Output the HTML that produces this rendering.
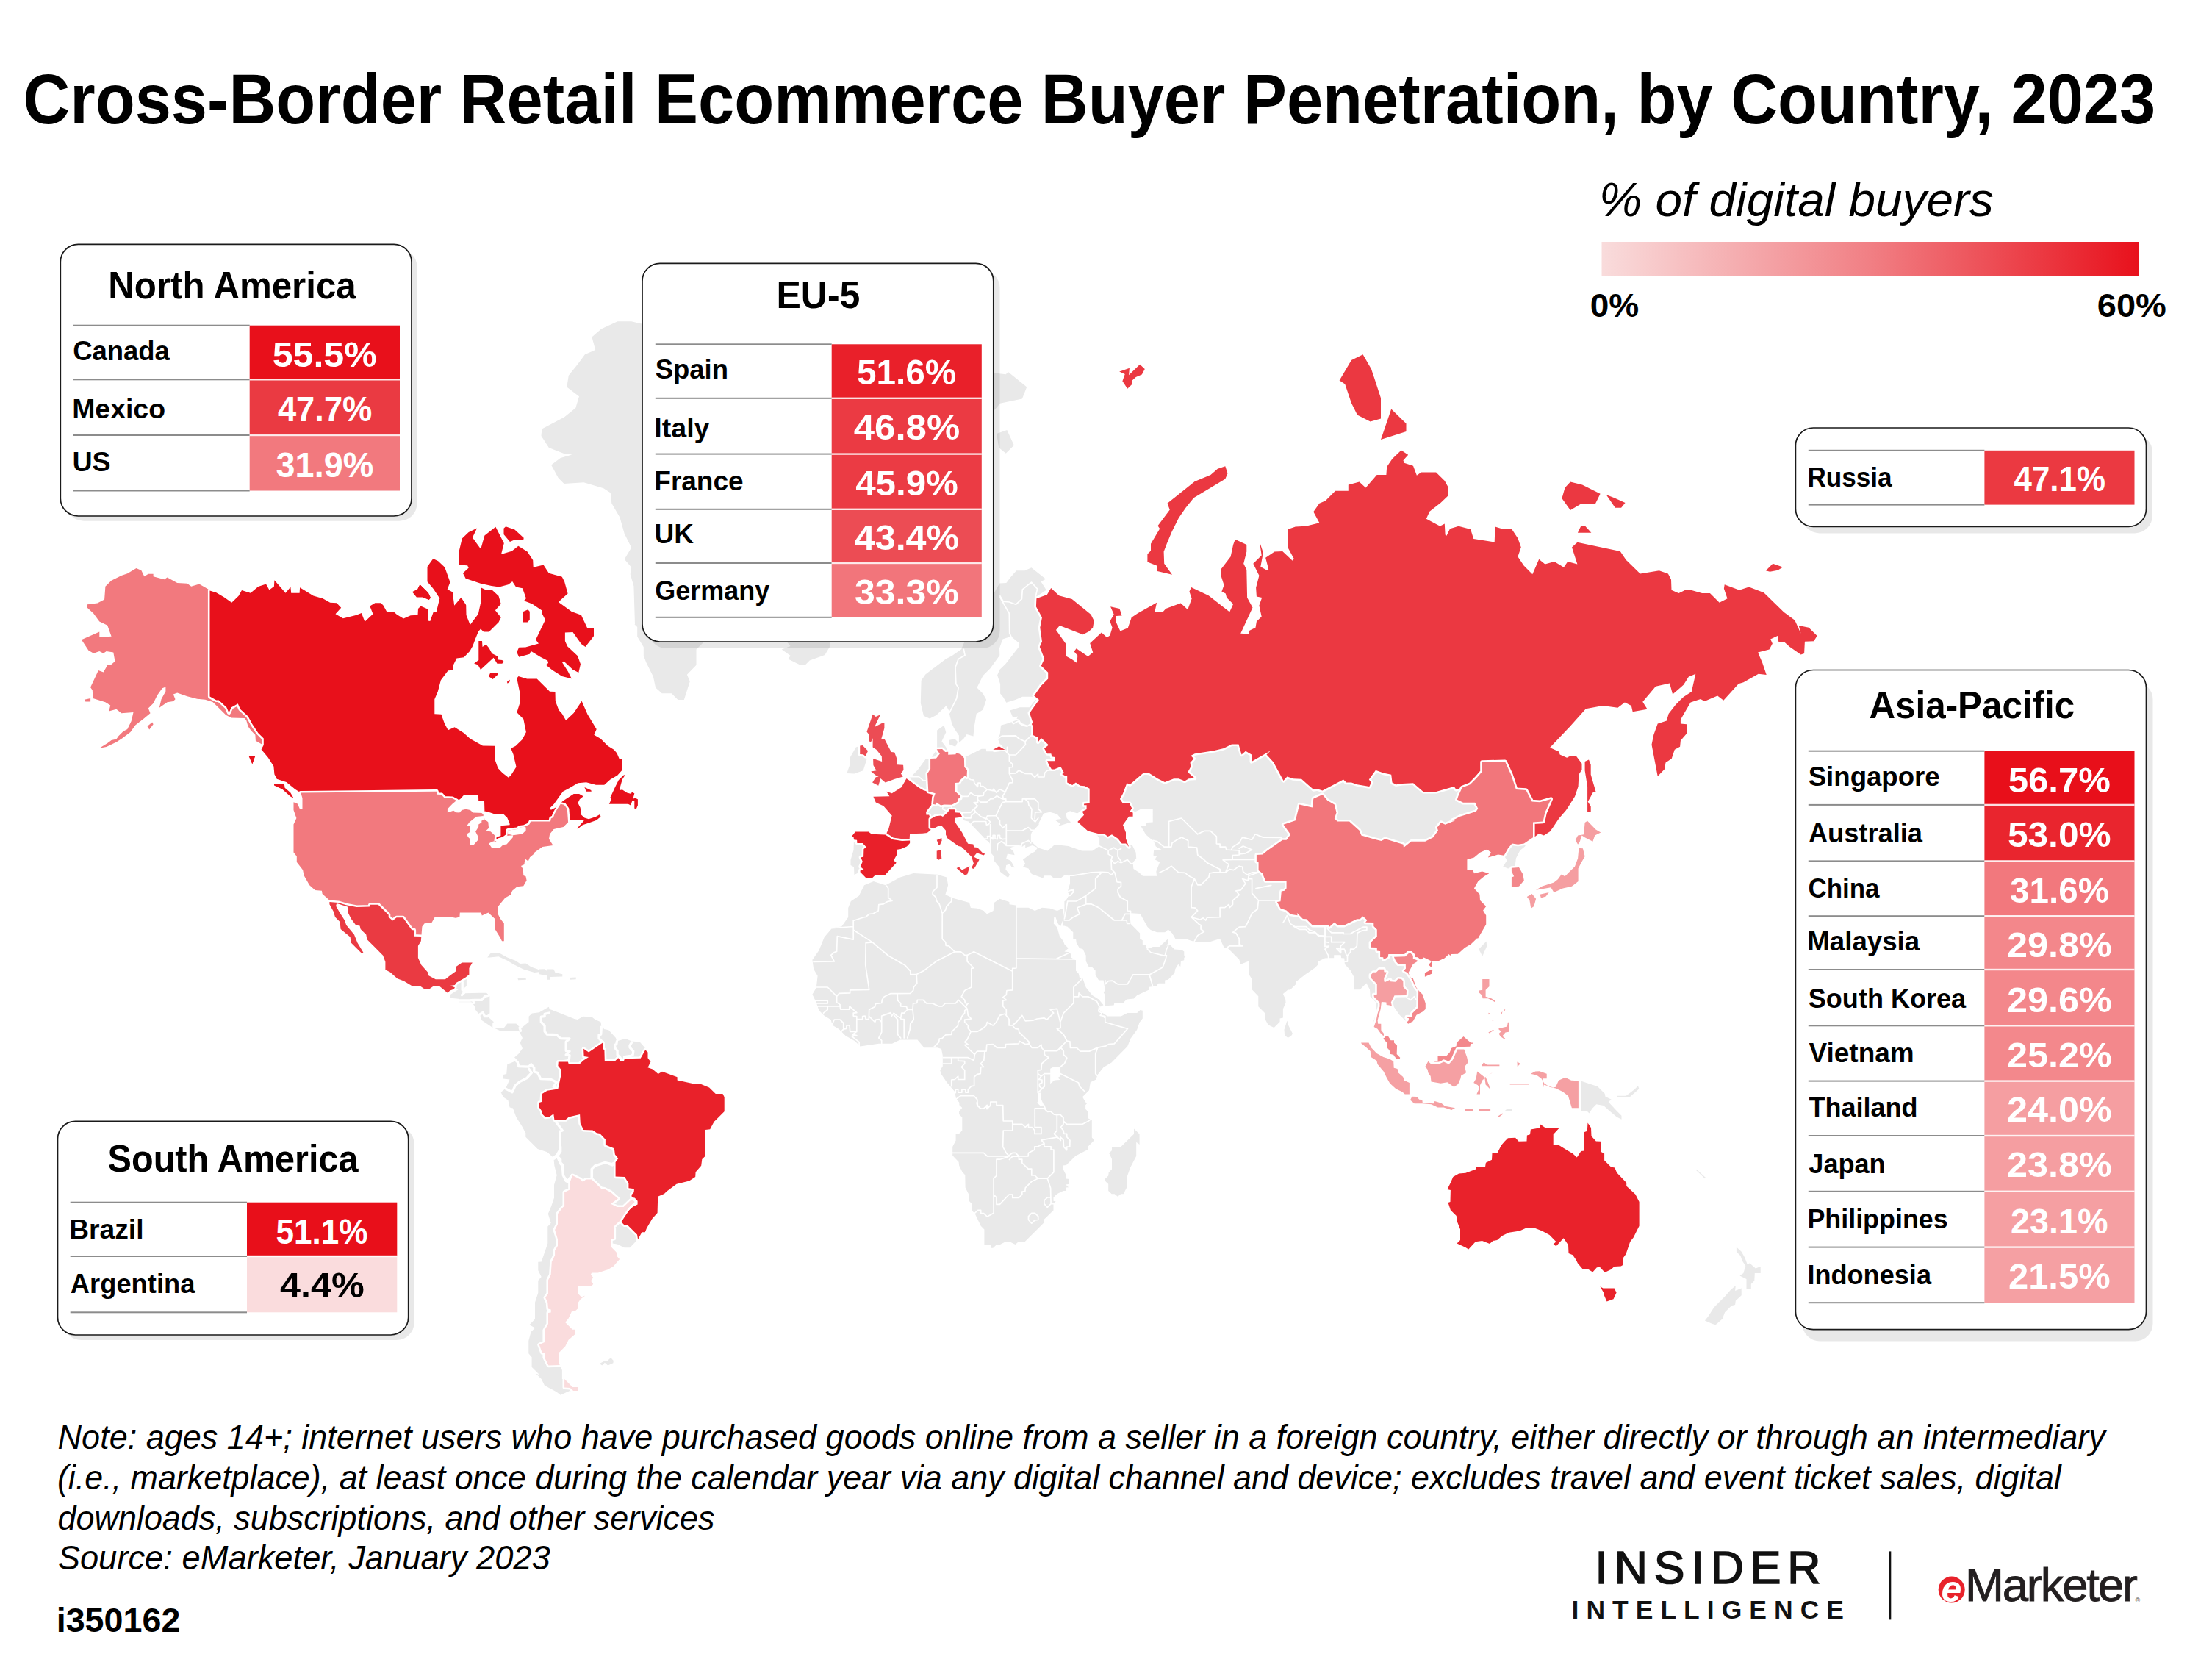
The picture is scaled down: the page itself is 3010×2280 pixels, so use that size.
<!DOCTYPE html>
<html lang="en"><head><meta charset="utf-8"><title>Cross-Border Retail Ecommerce Buyer Penetration, by Country, 2023</title>
<style>html,body{margin:0;padding:0;background:#fff}body{width:3010px;height:2280px;overflow:hidden}svg{display:block}text{font-family:"Liberation Sans", sans-serif}.b{font-weight:700}.i{font-style:italic}.w{fill:#fff}</style></head><body>
<svg xmlns="http://www.w3.org/2000/svg" width="3010" height="2280" viewBox="0 0 3010 2280">
<defs><linearGradient id="lg" x1="0" x2="1" y1="0" y2="0"><stop offset="0" stop-color="#f9dcdc"/><stop offset="0.5" stop-color="#f17f84"/><stop offset="1" stop-color="#e8111c"/></linearGradient></defs>
<rect width="3010" height="2280" fill="#fff"/>
<g id="map" stroke-linejoin="round">
<path d="M618.6,1333.8L634.9,1331.7L634.9,1341.5L629.5,1345.8L629.5,1351.2L633.8,1348.0L662.1,1348.0L666.4,1352.3L666.4,1378.4L662.1,1381.6L671.9,1390.3L672.9,1397.9L686.0,1397.9L690.3,1392.5L702.3,1392.5L708.8,1399.0L707.7,1402.3L686.0,1402.3L680.5,1402.3L668.6,1396.8L655.6,1388.1L653.4,1381.6L646.4,1372.9L645.8,1368.6L641.5,1363.2L624.7,1363.2L624.1,1358.8L613.2,1357.7L612.1,1353.4L624.1,1345.8L617.6,1344.7Z" fill="#e9e9e9"/>
<path d="M663.2,1302.4L667.5,1296.9L679.5,1296.5L690.3,1302.4L701.2,1306.7L707.7,1311.0L715.3,1310.4L722.9,1315.4L731.6,1318.6L735.9,1321.9L727.2,1323.0L712.0,1318.6L699.0,1312.1L690.3,1306.7L678.4,1301.3L666.4,1302.4Z" fill="#e9e9e9"/>
<path d="M733.8,1318.6L741.4,1318.2L743.5,1320.8L744.6,1318.6L753.3,1318.6L755.5,1323.0L765.3,1325.2L765.3,1328.4L749.0,1329.1L747.9,1332.8L744.6,1332.8L744.6,1327.3L733.8,1325.2Z" fill="#e9e9e9"/>
<path d="M704.4,1330.6L715.3,1329.9L716.0,1332.8L705.1,1333.2Z" fill="#e9e9e9"/>
<path d="M775.0,1329.9L783.7,1329.5L783.7,1332.3L775.0,1332.8Z" fill="#e9e9e9"/>
<path d="M708.8,1399.0L719.6,1390.3L719.6,1382.7L724.0,1378.4L733.8,1377.3L746.8,1369.7L747.9,1372.9L751.1,1374.0L781.5,1386.0L785.9,1387.1L793.5,1382.7L805.4,1383.4L809.8,1387.1L817.4,1390.3L818.5,1395.8L821.7,1396.8L821.7,1400.1L828.2,1401.2L838.0,1412.0L839.1,1416.4L851.1,1413.1L859.7,1416.4L870.6,1417.5L879.3,1427.2L881.5,1431.6L881.5,1439.2L885.4,1444.6L881.5,1452.2L888.0,1454.4L895.6,1460.9L901.0,1457.7L921.6,1465.3L921.6,1469.6L942.3,1473.9L954.2,1475.0L965.1,1479.4L973.8,1488.1L983.5,1488.1L985.7,1492.4L985.7,1512.0L971.6,1526.1L966.2,1536.3L959.7,1536.9L959.7,1572.8L955.3,1577.1L954.2,1585.8L946.6,1594.5L946.2,1601.0L937.9,1606.4L920.6,1610.8L907.5,1620.6L903.9,1624.1L895.2,1627.8L894.6,1650.1L887.6,1657.7L880.0,1670.8L877.8,1676.2L873.5,1676.2L868.1,1686.0L864.8,1689.2L857.2,1697.3L849.6,1697.3L839.8,1692.5L833.3,1691.4L831.1,1695.8L838.7,1703.4L839.4,1708.8L843.1,1713.1L834.4,1722.9L826.8,1727.2L813.8,1731.6L805.1,1731.6L804.0,1733.8L807.2,1738.1L804.0,1742.5L807.2,1746.8L805.1,1749.4L786.6,1749.4L786.6,1759.8L791.0,1764.6L796.4,1762.4L789.9,1767.4L786.0,1772.9L786.0,1780.5L782.3,1783.7L777.9,1784.2L773.6,1793.5L769.2,1798.9L779.0,1808.7L782.3,1808.7L782.3,1815.2L773.6,1822.8L769.2,1831.5L760.5,1840.2L760.5,1853.2L761.6,1857.1L764.9,1864.1L764.9,1876.0L768.1,1876.0L779.0,1886.9L786.0,1886.9L786.0,1891.9L774.7,1892.3L762.7,1897.7L757.3,1893.4L741.0,1884.7L736.7,1876.0L729.1,1868.4L734.5,1870.6L723.6,1859.7L723.6,1846.3L719.3,1841.3L719.3,1823.9L722.5,1812.0L728.0,1806.5L720.4,1802.2L728.0,1794.6L728.0,1771.8L732.3,1758.7L732.3,1742.0L736.7,1737.0L732.3,1728.3L732.3,1716.8L736.7,1716.4L745.3,1691.4L745.3,1668.6L749.7,1663.8L745.8,1651.2L750.3,1640.4L754.0,1629.5L754.0,1612.1L757.7,1598.8L754.4,1585.8L753.3,1574.9L744.6,1567.3L731.6,1563.0L715.3,1546.7L715.3,1541.3L709.9,1531.5L702.3,1519.6L697.9,1507.6L693.6,1506.5L691.4,1496.8L684.9,1492.4L681.6,1485.9L688.1,1480.5L693.6,1468.5L684.9,1467.4L684.9,1462.0L689.2,1460.9L690.3,1447.9L701.2,1443.5L699.0,1439.2L705.5,1433.8L711.0,1426.2L707.7,1418.6L711.0,1412.0L706.6,1403.4Z" fill="#e9e9e9"/>
<path d="M815.9,1855.0L822.5,1851.5L826.8,1851.1L831.1,1847.1L834.8,1851.1L834.4,1854.3L827.2,1857.6L822.9,1853.7L819.2,1857.6Z" fill="#e9e9e9"/>
<path d="M875.1,441.1L859.2,437.3L840.3,437.3L818.1,447.5L805.4,458.5L810.2,475.9L795.9,482.3L786.5,494.9L773.8,510.8L771.3,526.6L788.0,539.2L783.3,555.1L767.5,567.7L737.4,583.5L736.5,593.0L746.9,608.9L766.8,616.8L778.5,618.4L762.7,623.1L750.1,632.6L759.6,650.0L767.5,657.9L794.4,656.3L821.3,664.2L830.8,670.6L832.3,684.8L843.4,703.8L849.7,725.9L859.2,744.9L849.7,760.8L859.2,771.8L857.7,781.3L862.4,797.2L864.0,849.4L862.8,848.7L867.2,853.0L867.2,866.1L875.8,880.2L875.8,892.1L879.1,900.8L888.9,920.4L892.1,935.6L900.8,943.2L913.8,943.2L922.5,951.9L930.8,951.9L938.8,926.9L934.9,917.8L947.5,904.7L947.5,883.4L957.3,873.7L992.0,840.0L1004.8,684.8L973.2,494.9Z" fill="#e9e9e9"/>
<path d="M1063.7,883.4L1075.7,879.1L1070.2,872.6L1128.9,872.6L1128.9,880.2L1122.4,891.0L1101.7,898.6L1096.3,904.1L1087.6,904.1L1072.4,896.5L1075.7,892.1Z" fill="#e9e9e9"/>
<path d="M1352.9,507.6L1368.7,509.2L1371.9,506.0L1397.2,526.6L1390.9,542.4L1360.8,548.7L1352.9,558.2L1337.1,532.9Z" fill="#e9e9e9"/>
<path d="M1356.1,589.9L1370.3,585.1L1379.8,605.7L1368.7,616.8L1359.2,608.9Z" fill="#e9e9e9"/>
<path d="M1410.0,811.7L1423.8,802.7L1416.5,791.3L1423.0,787.7L1403.5,772.3L1394.5,776.2L1383.1,776.2L1375.0,785.6L1369.3,792.9L1360.3,793.4L1344.0,821.4L1311.4,875.2L1308.2,883.3L1295.2,892.3L1287.0,896.4L1276.4,904.5L1259.3,917.6L1253.6,925.7L1252.8,956.6L1256.9,973.8L1265.0,977.5L1274.0,972.9L1287.0,960.7L1291.1,968.1L1295.2,984.3L1298.4,990.9L1304.9,1000.6L1304.9,1010.4L1311.4,1004.7L1315.5,999.0L1324.5,1001.4L1325.3,990.9L1328.6,971.3L1337.5,965.6L1342.1,951.8L1337.5,943.6L1329.4,935.5L1337.5,919.2L1347.3,909.4L1360.3,891.5L1360.0,881.7L1364.4,869.5L1375.8,865.8L1387.2,875.2L1386.4,880.1L1368.5,902.9L1360.3,911.0L1357.1,918.4L1361.1,930.6L1361.1,943.6L1365.2,948.5L1369.3,955.8L1382.3,951.8L1391.3,947.7L1402.7,947.7L1406.7,948.5L1417.3,930.6L1426.3,920.8L1426.3,914.3L1417.3,904.5L1421.4,896.4L1413.3,883.3L1417.3,868.7L1414.1,852.4L1417.3,839.4L1409.2,826.3Z" fill="#e9e9e9"/>
<path d="M1291.9,1006.8L1299.2,1005.2L1303.3,1009.2L1300.0,1015.7L1291.9,1012.5Z" fill="#e9e9e9"/>
<path d="M1170.2,1014.6L1164.8,1016.6L1156.7,1030.4L1156.2,1041.0L1152.3,1052.1L1162.4,1052.4L1174.6,1048.3L1179.5,1032.8L1177.8,1028.8L1174.6,1026.3L1170.2,1026.0Z" fill="#e9e9e9"/>
<path d="M1400.8,962.3L1387.8,962.3L1374.2,966.4L1378.3,975.9L1385.1,974.5L1382.4,979.9L1371.5,984.0L1362.0,986.7L1360.7,998.9L1357.9,1004.4L1359.9,1011.1L1364.0,1015.2L1367.6,1019.4L1352.3,1022.3L1342.3,1022.3L1341.7,1018.8L1335.8,1018.8L1314.7,1029.3L1299.6,1024.7L1290.1,1026.1L1287.3,1016.6L1281.4,1008.4L1287.3,996.2L1284.6,986.7L1275.1,993.5L1275.1,1019.3L1266.1,1032.0L1260.1,1032.0L1248.7,1047.5L1242.2,1054.0L1240.5,1056.5L1233.5,1058.9L1226.7,1071.1L1213.7,1079.3L1206.3,1076.8L1210.4,1083.3L1188.4,1083.7L1191.7,1091.5L1202.3,1096.4L1213.7,1109.4L1209.3,1127.3L1205.8,1134.7L1204.7,1135.5L1186.0,1134.7L1181.9,1131.4L1164.0,1131.4L1158.8,1137.9L1161.5,1138.4L1162.0,1142.8L1161.5,1156.6L1157.5,1169.7L1157.5,1177.0L1162.0,1179.5L1162.4,1190.0L1170.5,1186.3L1178.6,1194.4L1186.8,1194.4L1190.9,1190.5L1204.7,1190.0L1219.7,1173.8L1216.1,1170.5L1221.0,1161.5L1221.0,1155.8L1225.9,1155.0L1234.0,1151.4L1238.1,1146.9L1238.1,1143.6L1238.1,1134.2L1255.2,1133.8L1261.7,1133.0L1268.6,1127.3L1269.9,1127.3L1276.4,1124.1L1281.3,1123.3L1287.0,1129.8L1287.0,1135.5L1289.4,1140.4L1295.1,1144.4L1304.1,1150.9L1308.1,1151.8L1322.0,1165.6L1324.9,1174.6L1322.0,1181.1L1325.2,1181.9L1326.9,1179.5L1332.6,1169.4L1324.9,1165.6L1329.3,1160.2L1338.3,1163.5L1340.7,1161.5L1337.5,1160.7L1330.1,1153.1L1325.2,1152.6L1324.4,1148.5L1317.1,1147.7L1309.0,1132.2L1298.9,1117.6L1299.2,1112.7L1309.3,1111.4L1311.4,1115.9L1317.9,1117.6L1322.8,1124.1L1329.3,1131.4L1336.6,1137.9L1340.7,1142.0L1345.6,1145.2L1348.1,1150.1L1348.1,1159.9L1352.9,1165.6L1352.9,1171.3L1360.3,1180.3L1361.1,1186.0L1367.6,1190.9L1371.7,1194.1L1374.1,1190.0L1368.4,1182.7L1369.2,1177.0L1374.1,1175.4L1376.6,1179.5L1380.6,1180.3L1375.7,1171.3L1369.2,1168.1L1370.9,1161.5L1380.6,1163.2L1379.0,1158.3L1374.1,1153.4L1383.9,1150.1L1391.2,1151.8L1395.3,1148.5L1395.2,1153.2L1404.9,1150.0L1412.1,1153.2L1408.2,1158.6L1401.7,1161.9L1391.9,1169.5L1395.2,1174.9L1391.9,1179.3L1399.5,1181.5L1403.8,1189.1L1419.1,1194.5L1421.2,1191.2L1429.9,1191.2L1434.3,1195.1L1442.9,1195.1L1448.4,1190.8L1456.0,1191.2L1456.0,1202.1L1452.7,1212.9L1454.9,1217.3L1450.5,1224.9L1448.4,1226.0L1448.4,1249.9L1446.2,1252.0L1446.2,1259.6L1448.4,1259.6L1452.7,1260.7L1460.3,1268.3L1460.3,1277.0L1464.2,1278.1L1464.7,1282.5L1469.0,1290.1L1473.4,1291.1L1477.7,1299.8L1477.7,1307.4L1482.0,1316.1L1486.4,1316.1L1490.7,1320.5L1490.7,1325.9L1495.1,1333.5L1501.6,1333.5L1503.8,1347.6L1501.6,1349.8L1503.8,1354.1L1503.8,1368.2L1515.7,1367.6L1516.4,1363.9L1528.7,1363.9L1533.1,1359.6L1542.9,1358.5L1547.2,1354.1L1563.5,1346.5L1563.5,1342.8L1573.3,1341.5L1576.5,1337.8L1585.2,1337.8L1585.2,1333.5L1589.6,1332.8L1598.2,1323.7L1599.3,1318.3L1603.2,1311.8L1606.3,1315.0L1606.9,1307.4L1611.3,1306.3L1611.3,1303.1L1613.4,1300.9L1611.3,1299.8L1611.3,1294.4L1608.0,1292.2L1598.2,1291.6L1591.7,1285.1L1587.4,1286.8L1589.6,1282.5L1589.6,1277.0L1577.6,1287.9L1568.9,1287.9L1561.3,1291.1L1559.1,1289.0L1559.1,1285.7L1554.8,1285.7L1554.8,1279.2L1551.1,1277.0L1551.1,1269.4L1538.5,1256.8L1537.4,1243.4L1539.6,1242.3L1551.5,1242.9L1561.3,1260.7L1565.7,1265.1L1574.4,1268.3L1585.2,1268.3L1589.6,1264.6L1595.0,1269.4L1599.3,1277.0L1612.4,1277.0L1625.0,1280.9L1647.1,1280.9L1660.1,1277.0L1665.6,1289.0L1669.9,1289.0L1686.2,1305.3L1688.4,1311.8L1699.2,1307.4L1699.7,1325.9L1704.0,1332.4L1704.0,1346.5L1712.3,1355.2L1712.3,1369.3L1721.0,1378.0L1721.4,1386.3L1725.7,1394.3L1733.6,1398.0L1741.6,1390.0L1741.6,1385.6L1745.9,1384.5L1745.9,1372.6L1749.6,1363.9L1749.2,1359.6L1745.9,1352.0L1752.5,1346.5L1755.7,1346.5L1763.3,1338.9L1763.3,1335.7L1777.4,1324.8L1789.4,1316.4L1793.5,1312.2L1793.5,1308.1L1802.9,1303.4L1807.6,1303.2L1815.2,1303.2L1815.2,1299.3L1824.6,1299.3L1825.2,1303.2L1829.3,1303.4L1829.9,1311.7L1837.6,1319.9L1842.9,1329.9L1842.9,1346.3L1850.5,1346.3L1859.3,1337.5L1864.0,1346.3L1864.6,1355.7L1872.8,1364.0L1873.3,1376.8L1869.2,1389.0L1871.1,1397.1L1881.5,1410.7L1886.9,1416.1L1887.4,1425.6L1893.7,1433.8L1900.5,1440.6L1904.5,1440.6L1900.5,1436.5L1901.0,1422.9L1895.6,1416.9L1887.4,1416.1L1886.9,1414.8L1881.5,1406.6L1874.7,1401.2L1870.1,1394.4L1872.0,1382.2L1876.0,1379.5L1878.7,1364.5L1884.2,1363.2L1893.7,1364.5L1895.0,1367.2L1904.5,1380.8L1916.8,1392.5L1924.9,1387.6L1929.0,1379.5L1937.1,1374.0L1939.8,1364.5L1935.8,1352.3L1927.6,1341.5L1920.8,1329.2L1915.4,1321.1L1919.5,1310.2L1927.1,1306.2L1933.4,1305.8L1937.5,1302.8L1946.9,1307.2L1947.8,1308.4L1943.9,1312.2L1946.9,1315.2L1948.6,1314.6L1949.0,1307.2L1958.0,1307.0L1965.7,1303.4L1971.6,1298.1L1983.9,1297.8L1993.3,1289.3L2001.5,1284.6L2009.8,1276.4L2011.3,1276.4L2022.2,1257.4L2022.2,1245.2L2018.1,1238.4L2022.2,1233.0L2014.0,1224.8L2013.5,1216.7L2005.9,1208.5L2011.3,1199.0L2019.5,1192.2L2026.3,1188.2L2016.8,1185.5L2005.9,1188.2L2004.5,1184.1L1996.4,1184.1L1996.4,1169.2L2005.9,1166.5L2014.0,1159.7L2023.5,1155.6L2029.0,1159.7L2024.9,1166.5L2030.3,1165.1L2038.5,1162.4L2046.6,1163.7L2050.7,1170.5L2045.3,1178.7L2052.0,1181.4L2056.9,1180.8L2056.9,1185.5L2060.2,1192.2L2056.9,1193.6L2056.9,1206.4L2067.0,1205.8L2073.8,1197.7L2072.4,1189.5L2067.0,1180.0L2061.6,1178.7L2062.9,1167.8L2068.3,1156.9L2075.1,1151.5L2079.2,1143.4L2086.0,1139.3L2087.3,1139.3L2080.0,1000.0L1450.3,899.8Z" fill="#e9e9e9"/>
<path d="M1751.4,1388.4L1753.5,1395.4L1759.0,1406.3L1756.8,1409.5L1752.5,1411.7L1748.1,1408.4L1747.5,1400.8Z" fill="#e9e9e9"/>
<path d="M2012.3,1291.2L2022.6,1280.4L2023.2,1287.2L2017.2,1300.7Z" fill="#e9e9e9"/>
<path d="M1176.0,1204.3L1188.7,1198.9L1205.0,1204.3L1224.9,1193.5L1243.0,1188.0L1275.6,1189.8L1288.3,1193.5L1290.1,1204.3L1286.4,1217.0L1296.6,1221.7L1319.0,1227.9L1320.9,1235.1L1330.0,1235.8L1338.7,1239.0L1343.0,1243.4L1351.7,1239.0L1352.8,1228.1L1360.4,1222.7L1373.4,1227.1L1373.4,1230.3L1382.1,1231.4L1383.2,1234.7L1399.5,1234.7L1408.2,1239.0L1418.0,1234.7L1428.8,1235.8L1438.6,1239.0L1446.2,1235.8L1448.4,1249.9L1446.2,1252.0L1442.9,1260.7L1439.7,1256.4L1436.4,1247.7L1434.3,1247.7L1433.8,1256.4L1438.6,1261.8L1441.9,1273.8L1446.9,1280.3L1448.4,1284.6L1453.8,1290.1L1448.4,1294.4L1457.1,1295.5L1458.1,1303.1L1464.0,1306.3L1464.0,1320.5L1467.9,1324.8L1469.0,1330.2L1473.4,1331.3L1477.7,1343.3L1486.4,1354.1L1495.1,1359.6L1501.6,1367.2L1495.1,1371.5L1497.2,1375.8L1503.8,1380.2L1507.0,1382.4L1525.5,1382.4L1534.2,1378.0L1547.2,1378.0L1551.5,1374.1L1554.8,1374.8L1554.8,1385.6L1550.5,1391.1L1547.2,1400.8L1538.5,1412.8L1534.2,1423.6L1512.5,1445.4L1501.6,1451.9L1494.0,1461.6L1491.1,1468.7L1483.8,1472.3L1482.0,1483.2L1473.0,1492.3L1478.4,1501.3L1480.2,1500.0L1477.1,1503.2L1477.1,1508.7L1481.0,1512.7L1481.0,1521.4L1485.8,1523.7L1485.8,1547.5L1489.2,1550.9L1481.0,1559.3L1481.0,1563.6L1463.6,1572.5L1450.9,1585.1L1446.5,1585.4L1446.5,1590.2L1450.9,1598.9L1450.9,1603.6L1454.9,1604.1L1454.9,1610.8L1450.2,1611.6L1454.1,1615.2L1450.9,1615.5L1450.9,1619.9L1447.0,1619.9L1438.3,1624.2L1433.5,1629.0L1433.5,1633.7L1436.7,1634.5L1433.5,1637.7L1433.5,1646.4L1420.6,1659.0L1420.6,1663.3L1394.8,1689.1L1386.1,1689.1L1381.6,1693.0L1373.4,1689.1L1368.7,1689.1L1360.0,1693.4L1355.7,1693.4L1351.3,1697.8L1348.1,1697.8L1348.1,1693.4L1339.4,1693.0L1339.4,1672.5L1334.7,1667.7L1326.3,1650.3L1322.0,1646.4L1322.0,1637.3L1318.0,1632.9L1318.0,1624.2L1313.6,1615.5L1313.3,1598.4L1309.3,1594.1L1305.1,1585.4L1304.6,1580.7L1296.2,1572.0L1296.2,1560.1L1300.6,1551.4L1300.6,1543.0L1304.6,1542.7L1309.3,1538.0L1309.3,1520.3L1305.1,1515.8L1305.1,1511.9L1309.3,1507.1L1305.4,1503.2L1305.4,1500.0L1300.9,1494.1L1299.1,1485.0L1288.3,1472.3L1281.0,1461.5L1279.2,1456.0L1282.8,1450.6L1282.8,1436.1L1281.0,1427.1L1275.6,1425.3L1257.5,1425.3L1248.4,1414.4L1224.9,1414.4L1214.0,1419.8L1195.9,1419.8L1170.5,1423.5L1163.3,1416.2L1150.6,1409.0L1141.6,1399.9L1132.5,1394.5L1130.7,1387.2L1121.7,1381.8L1114.4,1374.6L1110.8,1363.7L1105.4,1352.8L1110.8,1343.8L1112.6,1327.5L1107.2,1318.4L1105.4,1305.7L1114.4,1293.1L1121.7,1275.0L1132.5,1262.3L1145.2,1260.5L1154.2,1247.8L1154.2,1235.1L1157.9,1226.1L1168.7,1218.8Z" fill="#e9e9e9"/>
<path d="M1543.0,1535.6L1550.6,1542.7L1550.6,1557.0L1546.2,1553.8L1546.2,1572.8L1538.0,1588.6L1533.2,1602.1L1533.2,1615.5L1528.8,1624.2L1525.3,1624.2L1520.9,1627.8L1516.6,1624.2L1512.7,1624.2L1508.2,1619.9L1508.2,1610.8L1504.0,1606.8L1504.0,1603.6L1508.2,1599.4L1508.7,1594.9L1513.0,1590.5L1513.0,1576.7L1509.2,1568.8L1513.0,1564.9L1513.0,1560.1L1525.3,1560.1L1543.0,1542.7Z" fill="#e9e9e9"/>
<path d="M2362.9,1696.6L2369.7,1702.7L2374.2,1710.7L2377.6,1719.7L2381.0,1718.6L2388.9,1725.4L2395.7,1723.1L2395.7,1732.1L2387.8,1732.1L2387.3,1742.3L2382.8,1746.8L2382.8,1753.6L2376.5,1753.6L2376.5,1740.1L2367.4,1735.5L2372.4,1732.1L2375.3,1722.0L2370.8,1715.2L2368.5,1708.4L2362.9,1702.7Z" fill="#e9e9e9"/>
<path d="M2361.8,1749.1L2361.1,1755.9L2369.7,1752.5L2369.7,1762.2L2361.8,1769.5L2361.1,1775.1L2356.1,1776.2L2347.1,1785.3L2343.7,1794.3L2334.6,1802.3L2330.1,1801.1L2319.9,1796.6L2324.4,1790.9L2332.4,1778.5L2347.1,1763.8L2355.0,1754.8Z" fill="#e9e9e9"/>
<path d="M2308.6,1590.8L2321.0,1602.1L2319.9,1603.2L2308.2,1591.9Z" fill="#e9e9e9"/>
<path d="M2046.9,1512.1L2050.1,1508.9L2057.5,1508.9L2057.5,1511.3L2050.1,1512.1Z" fill="#e9e9e9"/>
<path d="M2151.1,1470.6L2173.9,1477.9L2183.7,1487.7L2184.5,1491.8L2192.7,1495.8L2188.6,1499.1L2200.0,1511.3L2206.5,1517.8L2206.5,1522.7L2200.0,1519.5L2190.2,1511.3L2182.1,1504.0L2172.3,1502.3L2166.6,1508.1L2162.5,1514.6L2159.3,1511.3L2151.1,1511.3Z" fill="#e9e9e9"/>
<path d="M2200.5,1490.8L2212.7,1490.8L2223.6,1482.6L2229.0,1477.2L2230.4,1481.3L2218.1,1492.1L2201.8,1493.0Z" fill="#e9e9e9"/>
<path d="M1403.8,1132.6L1413.6,1121.7L1413.6,1119.5L1420.1,1106.5L1428.8,1104.8L1438.6,1107.6L1444.0,1114.1L1435.3,1115.2L1442.9,1120.6L1439.7,1123.9L1457.1,1118.5L1451.6,1113.0L1450.5,1106.5L1456.0,1103.3L1465.8,1106.5L1471.2,1103.3L1474.4,1108.7L1465.8,1118.5L1479.9,1130.4L1490.7,1133.7L1496.2,1140.2L1496.2,1151.0L1486.4,1157.6L1472.3,1157.6L1453.8,1151.0L1435.3,1148.9L1425.6,1157.6L1412.5,1153.2L1402.8,1144.5L1402.8,1135.8Z" fill="#ffffff"/>
<path d="M1542.4,1105.4L1553.8,1099.9L1568.7,1099.9L1568.7,1118.4L1560.6,1118.9L1559.2,1123.0L1552.4,1123.8L1559.2,1135.2L1570.1,1144.7L1572.8,1151.5L1582.3,1156.9L1570.1,1156.9L1569.5,1163.7L1574.1,1165.1L1571.4,1169.2L1578.2,1172.7L1573.3,1185.5L1574.1,1191.7L1555.1,1191.7L1549.7,1186.8L1542.4,1181.9L1541.6,1173.2L1546.2,1167.8L1545.6,1159.7L1540.2,1148.8L1536.1,1151.5L1532.0,1140.7L1532.0,1132.5L1528.0,1122.2L1536.1,1110.8Z" fill="#ffffff"/>
<path d="M1429.2,1453.8L1433.7,1451.5L1442.8,1451.5L1442.8,1464.0L1439.4,1466.2L1442.8,1469.0L1434.9,1469.6L1429.2,1474.2Z" fill="#ffffff"/>
<path d="M1412.3,1486.6L1416.8,1486.6L1416.8,1495.6L1420.6,1503.6L1415.6,1504.2L1412.3,1500.2Z" fill="#ffffff"/>
<path fill="none" stroke="#fff" stroke-width="1.7" stroke-linecap="round" stroke-linejoin="round" d="M1206.5,1205.1L1208.7,1208.4L1208.7,1220.9L1213.9,1225.4L1207.6,1226.5L1201.9,1229.9L1195.8,1230.6L1195.2,1239.0L1188.4,1242.8L1182.7,1243.5L1178.2,1247.3L1174.8,1248.0L1161.2,1252.5L1161.2,1265.0M1161.2,1260.5L1131.8,1262.7M1161.2,1265.0L1161.2,1278.1L1139.3,1273.6L1138.6,1294.4L1135.2,1295.5L1130.7,1299.4L1135.2,1307.9L1107.0,1308.4M1161.2,1265.0L1187.2,1281.9L1208.7,1300.0L1231.3,1312.9L1238.8,1321.1L1238.8,1325.6L1247.2,1325.6M1187.2,1281.9L1178.2,1282.6L1177.7,1312.5L1182.7,1346.4L1156.7,1346.8L1156.7,1350.9L1142.0,1351.4L1138.6,1355.4M1110.4,1343.0L1126.2,1343.0L1138.6,1355.4L1138.6,1363.4L1143.1,1366.7L1143.1,1369.0L1109.2,1369.0M1109.2,1361.1L1126.2,1361.1L1126.2,1364.9L1109.2,1364.9M1126.2,1370.1L1126.2,1373.5L1120.5,1378.1M1143.1,1369.0L1143.8,1373.1L1155.6,1373.1L1156.0,1369.0L1165.8,1377.6L1161.2,1378.1L1161.2,1382.1L1165.8,1382.6L1165.8,1403.4L1156.7,1403.4L1156.0,1395.0L1152.2,1395.0L1151.5,1399.5L1147.7,1400.2L1143.1,1405.2M1131.8,1395.0L1135.2,1387.1L1143.1,1387.1L1147.7,1391.6L1147.7,1398.4M1165.8,1403.4L1160.1,1407.4L1165.8,1408.6L1159.0,1409.7L1169.1,1417.6L1169.1,1423.3M1165.8,1386.6L1173.7,1386.6L1173.7,1382.6L1177.1,1382.1L1178.2,1386.6L1182.3,1386.6L1182.7,1373.5L1190.6,1369.5L1191.3,1365.6L1199.7,1364.5L1200.4,1360.0L1203.1,1355.9L1212.1,1351.6L1221.2,1351.6M1247.2,1325.6L1247.8,1337.8L1243.3,1343.0L1242.6,1347.5L1238.8,1351.4L1221.2,1351.6M1221.2,1351.6L1221.6,1361.1L1225.7,1364.9L1225.7,1369.0L1233.6,1369.5L1234.7,1373.5L1242.0,1373.5M1182.7,1382.6L1190.6,1390.5L1191.8,1387.1L1196.3,1386.6L1199.7,1390.5M1199.7,1382.1L1212.1,1377.6L1213.2,1382.6L1216.2,1378.1L1221.2,1382.6L1225.7,1384.8M1199.7,1382.1L1199.7,1404.1L1195.8,1412.0L1199.7,1415.4L1199.7,1419.9M1216.6,1381.4L1221.6,1387.1L1221.6,1407.4L1225.7,1412.0M1225.7,1384.8L1226.1,1386.6L1230.2,1386.6L1230.2,1412.0M1234.7,1373.5L1230.2,1378.1L1226.8,1378.1L1225.7,1384.8M1242.0,1373.5L1243.3,1387.1L1238.8,1392.7L1238.1,1400.7L1234.7,1412.0M1242.0,1373.5L1242.6,1364.9L1247.8,1364.5L1248.3,1360.4L1256.2,1360.4L1260.7,1364.9L1268.7,1364.9L1277.7,1369.0L1282.2,1369.0L1286.3,1364.9L1300.3,1364.9L1304.4,1360.4L1316.1,1372.4M1316.1,1372.4L1312.7,1374.7L1312.7,1378.1L1308.9,1382.6L1307.5,1387.1L1303.7,1390.5L1303.7,1395.0L1295.3,1403.4L1294.7,1407.4L1286.7,1407.9L1282.2,1412.4L1278.2,1413.1L1277.7,1417.6L1270.9,1424.4M1275.0,1191.5L1275.0,1207.3L1269.1,1213.0L1269.1,1216.4L1273.6,1220.9L1274.3,1225.4L1278.2,1229.9L1282.2,1242.4M1282.2,1242.4L1286.7,1237.8L1287.9,1233.3L1294.7,1226.1L1294.7,1222.0M1282.2,1242.4L1282.2,1277.4L1286.7,1281.9L1287.2,1286.5L1291.3,1286.9L1299.2,1294.8M1247.2,1325.6L1256.2,1321.1L1274.3,1307.5L1299.2,1294.8M1299.2,1294.8L1307.5,1294.8L1312.7,1299.4L1316.1,1299.4M1316.1,1299.4L1325.2,1294.8L1377.2,1321.1M1316.1,1299.4L1316.1,1307.9L1325.2,1317.0L1321.8,1317.4L1321.8,1343.0L1312.7,1347.5L1308.2,1355.9L1312.7,1360.4L1313.4,1364.5L1317.3,1364.9L1313.9,1369.0L1316.1,1372.4M1382.9,1234.5L1382.9,1303.4M1382.9,1303.4L1382.9,1317.0L1377.7,1317.4L1377.7,1346.8M1382.9,1303.9L1463.1,1305.0M1438.3,1303.9L1456.4,1295.5L1463.1,1305.0M1377.7,1346.8L1370.0,1347.5L1369.3,1353.2L1364.8,1356.6L1369.3,1360.4L1364.8,1361.1L1364.8,1369.0L1369.3,1373.5L1369.3,1381.4M1369.3,1381.4L1367.0,1379.2L1360.2,1381.4L1355.7,1390.5L1351.2,1395.0L1343.3,1390.5L1342.1,1395.0L1337.6,1398.9L1329.7,1403.4L1321.1,1403.4M1316.1,1372.4L1317.3,1381.4L1321.8,1386.0L1312.7,1387.1L1312.7,1390.5L1317.3,1395.0L1317.3,1398.9L1321.1,1403.4M1321.1,1403.4L1316.1,1414.2L1312.7,1417.6L1317.3,1421.0L1312.7,1421.5L1326.3,1434.6M1369.3,1381.4L1373.1,1386.6L1373.1,1395.0L1377.7,1395.0L1381.7,1399.5L1386.2,1400.2L1386.7,1404.1L1399.8,1416.9L1400.3,1419.9M1377.7,1395.0L1382.9,1390.5L1390.8,1381.4L1395.3,1388.9L1405.5,1388.2L1411.1,1386.0L1420.6,1384.8L1424.7,1387.1L1433.7,1378.1L1429.2,1373.5L1438.3,1372.4L1442.8,1390.5M1442.8,1390.5L1447.3,1378.1L1460.9,1364.5L1460.9,1343.0L1472.2,1331.7M1460.9,1355.9L1467.7,1355.9L1468.1,1350.9L1473.3,1355.9L1481.2,1355.9L1492.5,1362.2L1495.9,1369.0L1501.6,1368.6M1495.9,1369.0L1494.8,1375.8L1499.3,1378.1L1497.1,1381.4L1503.8,1382.6M1499.3,1381.4L1503.8,1384.8L1503.8,1390.5L1534.4,1399.5L1516.3,1419.9L1508.4,1420.6L1505.0,1422.8L1493.7,1425.1M1493.7,1425.1L1482.4,1430.1L1469.9,1430.1L1465.4,1425.5L1456.4,1425.5L1455.9,1416.9L1451.8,1416.0M1442.8,1390.5L1443.2,1398.4L1438.3,1399.5L1447.3,1407.4L1451.8,1416.0M1400.3,1419.9L1404.3,1425.5L1412.3,1425.5L1416.8,1421.0L1417.5,1425.5L1421.3,1429.6L1438.3,1429.6L1451.8,1416.0M1326.3,1434.6L1329.7,1430.1L1342.1,1430.1L1342.8,1421.0L1351.2,1420.6L1356.8,1425.5L1368.2,1425.5L1368.6,1420.6L1386.2,1419.9L1387.4,1416.5L1395.3,1420.6L1400.3,1419.9M1283.4,1438.7L1317.3,1438.7L1325.2,1442.5L1326.3,1434.6M1283.4,1447.0L1294.7,1447.0L1294.7,1439.1M1303.7,1439.1L1303.7,1443.2L1312.7,1443.6L1312.7,1447.0L1308.2,1451.5L1312.7,1456.1L1312.7,1468.5L1303.7,1468.5L1303.7,1464.0L1299.2,1468.5L1294.7,1469.0L1294.7,1477.6M1339.9,1430.1L1338.8,1442.5L1334.2,1447.0L1338.8,1451.5L1334.7,1451.5L1334.2,1460.6L1329.7,1461.3L1325.6,1465.1L1325.6,1477.1L1321.8,1477.6L1317.3,1482.1L1317.3,1486.1L1313.9,1486.1L1313.9,1482.1L1308.9,1482.1L1308.9,1486.1L1303.7,1486.1L1303.7,1482.1L1300.3,1482.1L1300.3,1486.6M1300.3,1495.6L1307.1,1490.7L1325.2,1490.7L1329.7,1495.6L1330.2,1503.6L1334.2,1508.1L1338.8,1508.1L1342.8,1503.6L1342.8,1508.1L1347.8,1503.6L1347.8,1499.0L1356.4,1499.0M1493.7,1425.1L1490.7,1433.5L1490.7,1460.6L1493.7,1464.0M1438.3,1429.6L1443.9,1425.5L1447.3,1430.1L1447.3,1434.6L1451.8,1439.1L1448.4,1447.0L1442.8,1451.5M1442.8,1460.6L1467.7,1473.0L1468.8,1477.6L1476.7,1485.5M1421.3,1429.6L1421.3,1434.6L1427.0,1438.7L1417.5,1447.0L1416.8,1455.4L1412.3,1456.1L1412.3,1460.6M1412.3,1460.6L1416.8,1464.0L1421.3,1460.6L1429.2,1460.6M1416.8,1464.0L1413.8,1468.5L1417.9,1469.0L1417.9,1473.0L1414.5,1474.2L1414.5,1478.0L1417.9,1480.9L1421.3,1478.0L1421.3,1464.0M1412.3,1460.6L1412.3,1486.6M1421.3,1478.0L1412.3,1486.6M1420.6,1503.6L1422.4,1508.1M1296.2,1568.4L1338.6,1568.4L1343.4,1572.8L1371.8,1572.8M1356.0,1500.0L1356.0,1503.5L1364.7,1503.5L1365.2,1525.0L1377.8,1525.0L1377.8,1538.0L1365.2,1538.0L1364.7,1560.1L1369.5,1568.8L1373.4,1572.8M1377.8,1529.3L1390.8,1529.3L1395.3,1533.5L1399.5,1529.3L1399.5,1533.5L1404.3,1533.5L1407.9,1537.7L1407.9,1542.4L1416.9,1542.4L1416.9,1533.5L1408.2,1533.5L1408.2,1507.9L1420.9,1507.9L1420.9,1504.0L1416.9,1504.0L1412.2,1500.0M1420.9,1507.9L1425.6,1512.3L1429.6,1511.9L1434.3,1516.1L1438.3,1516.6L1438.3,1538.0L1434.3,1542.4L1443.4,1551.4L1442.7,1546.7L1447.0,1550.9L1447.5,1560.1L1451.7,1564.6L1451.7,1560.1L1455.7,1559.8L1456.0,1551.4L1451.7,1546.7L1451.7,1542.4L1447.8,1542.4L1447.0,1538.0L1443.4,1533.5L1447.0,1529.3L1447.0,1520.6L1442.7,1516.1L1438.3,1516.6M1447.0,1525.0L1451.7,1529.3L1473.1,1529.3L1481.3,1525.0L1485.8,1521.4M1438.3,1547.2L1416.9,1550.9L1420.9,1555.4L1412.2,1559.8L1407.9,1559.8L1407.9,1564.1L1399.5,1568.4L1399.1,1572.8L1386.4,1572.8M1371.8,1572.8L1377.8,1568.4L1382.1,1568.4L1386.4,1572.8M1373.4,1577.5L1377.8,1573.1L1386.1,1573.1M1371.8,1573.6L1360.8,1577.2L1356.0,1577.2L1356.0,1599.4L1352.1,1603.2L1352.1,1625.0M1420.9,1555.4L1420.9,1559.8L1430.1,1559.8L1430.1,1564.1L1433.9,1564.1L1433.9,1594.6L1425.3,1603.2M1386.4,1572.8L1386.4,1577.2L1390.8,1577.2L1390.8,1582.0L1399.1,1590.2L1403.8,1590.2L1403.8,1598.9L1407.9,1598.9L1412.2,1602.8M1352.1,1625.0L1356.0,1629.0L1356.0,1638.4L1360.4,1638.4L1373.1,1625.0L1377.8,1625.0L1377.8,1629.4L1386.4,1629.4L1390.8,1625.0L1390.8,1621.0L1394.8,1620.6L1395.3,1615.8L1403.5,1607.6L1412.2,1603.2M1412.2,1603.2L1425.3,1603.2L1429.6,1616.3L1430.1,1637.7L1433.5,1637.7M1352.1,1603.2L1352.1,1650.3L1343.4,1655.1L1338.6,1650.6L1334.7,1650.6L1334.7,1646.4L1330.7,1646.4L1326.3,1650.3M1429.6,1629.0L1425.3,1629.0L1420.9,1633.2L1420.9,1637.7L1425.3,1642.4L1430.1,1637.7M1399.5,1654.7L1403.8,1650.3L1408.2,1650.3L1412.7,1654.7L1412.7,1659.5L1408.2,1659.8L1403.8,1664.2L1399.5,1659.5L1399.5,1654.7M1329.1,1500.0L1329.9,1504.0L1334.7,1508.2L1338.6,1507.9L1343.4,1503.5L1343.0,1508.7L1347.8,1504.0L1347.8,1500.0M1352.3,1022.3L1367.6,1020.5L1370.5,1024.1L1373.4,1027.0M1373.4,1027.0L1373.4,1035.2L1377.9,1039.9L1377.9,1043.5L1373.4,1044.0L1373.4,1052.3L1377.9,1061.7L1377.9,1064.6L1373.4,1065.2L1369.9,1072.8L1368.1,1077.5M1368.1,1077.5L1360.5,1073.8L1355.8,1078.1L1351.7,1073.4L1351.1,1075.8L1346.4,1074.6L1342.9,1074.0L1338.2,1069.9L1334.1,1069.3L1334.1,1065.2L1330.9,1065.2L1330.5,1070.5L1325.8,1065.2L1325.2,1061.1L1320.5,1060.5L1316.4,1057.6M1357.6,1005.3L1363.4,1001.1L1382.2,1000.9L1385.8,1004.4L1394.8,1008.8M1394.8,1008.8L1395.5,1012.9L1382.2,1027.0L1373.4,1027.0M1370.5,1016.4L1370.5,1024.1M1377.5,982.3L1378.7,984.7L1386.4,980.6L1386.4,983.5L1392.2,987.0L1397.5,988.2L1402.2,984.9L1405.2,985.3M1403.4,1000.6L1394.8,1008.8M1394.8,1008.8L1403.4,1000.6L1411.0,1004.7L1411.6,1010.0L1416.9,1004.1M1373.4,1052.3L1382.2,1051.9L1386.4,1047.9L1394.6,1052.3L1403.4,1052.6L1408.1,1057.3L1412.5,1052.9L1412.5,1057.0L1421.0,1057.0L1421.6,1051.7L1425.1,1048.2L1429.8,1047.6M1368.1,1077.5L1364.6,1082.2L1365.2,1086.4L1368.7,1086.7L1369.0,1090.5M1369.0,1090.5L1391.1,1090.7L1391.3,1086.9L1408.1,1086.9L1412.8,1091.6L1412.8,1100.5L1417.5,1104.6L1408.7,1104.8L1408.1,1114.0M1395.2,1087.2L1399.3,1091.1L1399.9,1095.2L1404.0,1100.5L1403.4,1112.8L1408.7,1118.1L1412.8,1112.8M1307.6,1083.4L1317.0,1083.4L1321.1,1078.1L1325.8,1082.2L1338.2,1082.2L1338.8,1078.1L1342.9,1074.6M1338.2,1082.2L1330.5,1083.4L1330.5,1087.5L1334.1,1091.1M1334.1,1091.1L1342.9,1091.1L1347.6,1086.9L1351.1,1086.7L1356.4,1082.8L1364.0,1086.9L1368.7,1087.5M1330.5,1087.5L1330.5,1091.6L1325.2,1091.6L1330.5,1096.3L1325.2,1100.5L1327.6,1104.6M1282.9,1096.9L1294.7,1096.9L1295.3,1100.5L1299.4,1100.5M1309.4,1105.7L1320.5,1105.5L1325.2,1100.5M1327.6,1104.6L1321.7,1109.3L1321.1,1112.8M1327.6,1104.6L1334.1,1110.4L1341.7,1114.0L1343.5,1109.9L1355.2,1109.5M1369.0,1090.5L1364.0,1091.6L1355.2,1109.5M1309.4,1105.7L1310.6,1110.4L1313.5,1112.8L1321.1,1112.8M1320.5,1121.6L1324.7,1117.5L1341.7,1117.5L1342.3,1122.2L1345.2,1121.6L1347.6,1118.1L1343.5,1114.0L1341.7,1114.0M1320.5,1121.6L1335.8,1137.5L1338.8,1141.0M1347.6,1121.6L1347.6,1137.5L1343.5,1137.5L1344.0,1141.0L1338.8,1141.0M1355.2,1109.5L1360.5,1116.3L1360.5,1121.0L1364.6,1126.3L1369.3,1121.6L1369.3,1131.6M1369.3,1131.6L1369.3,1141.0L1364.0,1141.6L1360.5,1139.8L1360.5,1136.3L1357.6,1136.3L1357.2,1141.6L1354.0,1141.0L1354.0,1136.3L1351.1,1136.3L1351.1,1141.6L1347.6,1137.5M1369.3,1130.2L1390.5,1130.2L1399.3,1125.5L1403.4,1129.3L1406.9,1129.3M1369.3,1141.0L1369.3,1150.4L1389.9,1151.0L1390.5,1147.5L1399.3,1143.4L1402.8,1146.9M1347.6,1137.5L1348.2,1157.0M1357.0,1157.0L1357.6,1148.1L1362.9,1144.5L1367.6,1148.1L1369.3,1150.4M1236.0,1056.6L1250.3,1056.6L1256.5,1061.8L1262.0,1061.8M1283.7,1094.7L1282.6,1100.4L1290.2,1104.5M1360.3,810.0L1365.2,818.2L1373.3,819.0L1382.3,822.3L1390.4,814.9L1391.3,801.9L1403.5,792.1L1411.6,801.1L1409.2,811.7M1360.3,811.7L1373.3,834.5L1373.7,861.4L1375.8,865.8M1311.4,883.3L1313.1,891.5L1304.1,896.4L1300.0,907.8L1300.9,930.6L1304.1,935.5L1301.7,950.1L1291.9,969.7L1287.0,960.7M1378.2,977.0L1386.4,979.5L1388.8,984.3L1397.8,987.6L1404.3,986.0M1496.2,1151.0L1508.1,1156.9L1515.7,1153.2L1521.1,1156.9L1525.5,1154.3M1508.1,1156.9L1508.1,1161.9L1513.5,1165.2L1512.0,1169.5L1516.8,1174.9L1521.1,1171.7L1525.5,1173.8L1534.2,1169.5L1538.5,1174.9L1541.8,1174.9M1521.1,1156.9L1521.1,1165.2L1525.5,1171.7M1456.0,1191.2L1460.3,1191.2L1485.3,1186.9L1499.4,1186.4L1508.1,1186.9L1512.0,1190.1L1515.7,1186.9M1512.0,1169.5L1512.5,1182.5L1516.8,1186.9L1520.1,1199.9L1525.5,1200.3L1525.5,1205.3L1521.1,1209.7L1521.1,1214.0L1524.4,1220.5L1534.2,1226.0L1534.2,1239.0L1538.5,1239.4L1538.5,1243.4M1499.4,1186.4L1490.7,1195.6L1490.7,1208.6L1477.7,1218.4M1477.7,1218.4L1464.7,1226.0L1452.7,1226.0M1477.7,1218.4L1477.7,1230.3L1465.8,1234.7L1469.0,1243.4L1460.3,1247.7L1454.9,1252.0L1448.4,1252.0M1477.7,1229.9L1485.3,1229.9L1495.1,1234.7L1516.4,1252.0L1526.6,1252.0L1533.1,1252.0L1533.7,1256.4L1537.4,1256.4M1526.6,1252.0L1530.9,1243.4L1538.5,1243.4M1452.7,1226.0L1450.5,1239.0L1448.4,1249.9M1452.7,1212.9L1460.3,1209.7L1460.3,1214.0L1456.0,1218.4L1452.7,1218.4M1503.8,1333.5L1503.8,1338.9L1508.1,1334.6L1513.5,1334.1L1521.1,1338.9L1534.2,1338.9L1541.8,1325.9L1564.1,1325.9L1582.0,1316.1L1586.3,1304.2L1587.4,1299.8M1564.1,1325.9L1568.5,1341.5M1561.3,1291.1L1565.7,1295.5L1585.2,1300.3L1587.4,1291.1L1589.6,1286.8M1625.4,1195.6L1621.1,1206.4L1621.1,1234.7L1626.5,1235.1L1629.7,1239.0L1621.1,1247.7L1631.9,1257.5L1634.1,1258.6L1634.1,1264.0L1638.4,1267.2L1629.7,1272.7L1625.0,1280.9M1578.0,1186.9L1587.4,1182.5L1593.9,1178.2L1603.7,1186.9L1612.4,1187.3L1618.9,1192.3L1625.4,1195.6M1568.9,1143.4L1574.4,1144.5L1584.1,1152.1L1590.6,1152.1L1593.9,1152.1L1595.0,1146.7L1601.5,1142.4L1608.0,1139.1L1616.7,1143.4L1616.7,1152.1L1628.7,1153.2L1629.7,1163.0L1638.4,1169.5L1642.8,1173.8L1655.8,1180.4L1660.1,1182.5L1660.1,1186.9M1590.6,1152.1L1590.6,1117.4L1607.6,1113.0L1629.7,1134.8L1638.4,1130.4L1647.1,1130.4L1655.4,1138.0L1655.4,1147.8L1660.1,1148.2L1660.1,1152.1L1667.7,1152.1L1668.8,1156.0L1675.4,1156.5L1677.5,1152.1L1686.2,1146.7L1690.6,1139.1L1703.6,1142.4L1707.9,1134.8L1718.8,1139.1L1742.7,1139.5L1747.0,1143.4M1625.4,1195.6L1629.7,1203.8L1634.1,1203.8L1644.9,1193.4L1646.0,1188.0L1651.5,1186.9L1660.1,1186.9L1667.7,1186.9L1673.2,1182.5L1678.6,1183.6L1686.2,1178.2L1690.6,1179.3L1691.6,1185.8L1697.1,1190.1L1703.6,1186.9L1712.3,1186.9M1677.5,1156.5L1686.2,1156.9L1686.2,1163.0L1677.1,1163.6L1677.1,1169.5L1707.9,1169.5M1664.1,1169.9L1677.1,1169.5M1664.1,1169.9L1672.1,1176.0L1667.7,1186.9M1686.2,1154.3L1691.6,1151.0L1703.6,1156.0L1694.9,1160.8L1686.2,1161.9M1712.3,1186.9L1699.2,1191.2L1698.2,1197.7L1690.6,1195.6L1694.9,1202.1L1688.4,1210.8L1681.9,1211.9L1686.2,1217.3L1677.5,1224.9L1677.5,1230.3L1673.2,1234.7L1672.1,1230.3L1666.7,1234.7L1660.1,1234.7L1660.1,1247.7L1642.8,1248.1L1640.6,1252.0L1637.3,1248.8L1633.0,1251.0L1621.1,1247.7M1712.3,1226.0L1711.2,1236.8L1703.6,1242.3L1699.2,1252.0L1694.9,1260.7L1686.2,1261.2L1677.5,1268.3L1681.9,1269.4L1686.2,1277.0L1686.2,1284.6L1690.6,1286.8L1673.2,1286.8L1669.9,1289.0M1699.2,1195.6L1703.6,1195.6L1703.6,1215.1L1712.3,1224.9L1736.2,1224.9L1736.2,1228.1M1709.0,1208.6L1729.7,1204.3M1745.9,1255.3L1751.4,1245.5L1755.7,1256.4L1762.2,1260.7L1777.4,1260.7L1781.8,1265.1L1788.3,1267.2L1794.8,1272.7L1803.5,1273.3L1803.5,1260.7M1760.0,1259.9L1768.2,1264.4L1777.0,1264.4L1781.2,1268.8L1789.4,1268.8L1794.7,1274.0L1802.9,1274.3M1802.9,1261.1L1802.9,1274.3L1802.9,1281.1L1807.6,1282.3M1806.4,1263.5L1811.7,1268.8L1828.2,1268.8L1828.2,1270.5L1837.6,1270.5L1841.1,1268.2L1855.2,1261.1L1859.9,1261.1L1859.9,1265.2L1854.0,1265.8L1847.0,1269.3L1846.4,1287.0L1842.3,1291.1L1837.6,1291.1L1837.6,1295.2L1833.5,1299.9L1833.5,1308.1L1829.9,1308.1M1802.9,1274.3L1811.7,1274.3L1811.7,1281.7L1829.9,1281.7L1824.4,1287.0L1824.1,1291.1L1818.8,1290.5L1824.6,1296.4L1824.6,1291.1L1829.3,1291.1L1832.3,1299.9M1802.9,1281.1L1802.9,1287.6L1808.4,1287.0L1802.9,1291.1L1807.6,1299.9L1807.6,1303.2M1914.0,1356.9L1919.8,1360.4L1924.6,1355.7L1926.9,1359.8"/>
<path fill="none" stroke="#fff" stroke-width="3.3" stroke-linecap="round" stroke-linejoin="round" d="M754.4,1523.2L765.3,1538.0L762.0,1539.1L762.0,1564.1L757.7,1571.7L753.3,1574.9M757.7,1571.7L763.1,1583.6L765.3,1585.8L766.3,1598.8L771.8,1607.5L778.3,1598.8M805.4,1601.0L805.4,1590.1L809.8,1585.8L823.9,1581.5L832.6,1583.6L837.6,1581.0M805.1,1604.5L805.1,1590.4L809.4,1586.1L823.5,1581.3L833.3,1585.0L837.2,1581.7M754.0,1576.3L758.4,1573.0L762.7,1566.5L762.7,1560.0M758.4,1573.0L762.7,1577.4L762.7,1581.7L766.0,1585.0L766.4,1599.1L770.3,1606.7L775.8,1607.8M747.2,1378.0L741.1,1379.4L741.1,1382.7L736.3,1383.2L736.3,1390.2L741.1,1395.6L741.1,1403.1L744.4,1407.2L757.3,1407.6L762.8,1412.6L775.0,1413.0L770.2,1417.3L770.2,1429.5L775.0,1430.2L770.2,1435.0L775.0,1435.6L774.3,1442.4L759.4,1445.1M820.4,1397.0L818.4,1397.0L817.7,1407.2L815.0,1407.8L815.0,1412.6L820.4,1418.0M839.4,1416.7L838.7,1420.7L836.7,1421.4L836.7,1425.5L840.1,1429.5L840.1,1435.0L844.1,1439.0L846.2,1443.1M859.7,1418.0L857.0,1422.1L857.0,1424.8L861.8,1430.2L861.1,1435.0L858.4,1436.3L849.6,1437.7M698.3,1439.0L704.4,1445.1L705.8,1450.6L719.4,1451.2L722.7,1447.8L726.8,1452.6L726.8,1458.0L731.6,1459.4L735.6,1467.5L749.2,1468.2L757.3,1472.3L753.3,1478.4L759.4,1482.4M688.2,1481.1L697.0,1485.8L701.0,1477.0L707.1,1471.6L716.6,1466.8L723.4,1459.4L720.0,1454.6M707.1,1398.3L708.5,1402.4M628.5,1353.6L632.6,1349.5L662.4,1348.8L666.5,1352.9M644.8,1360.4L655.6,1360.4L659.7,1355.6L666.5,1353.6M624.4,1361.0L639.3,1361.0L643.4,1360.4L644.8,1364.4M652.9,1380.0L657.0,1377.3L659.7,1382.7L663.7,1382.7M671.9,1392.2L671.9,1397.0M629.2,1336.0L629.2,1346.8"/>
<path d="M283.3,801.4L271.1,794.6L260.2,797.8L254.8,793.8L241.2,793.0L227.6,785.6L223.5,788.3L208.6,784.3L208.6,780.7L201.8,780.7L196.4,784.3L192.3,776.1L185.5,772.9L173.3,780.2L165.2,782.9L151.6,789.7L143.4,797.8L142.1,815.5L132.6,820.4L119.0,822.3L118.5,826.4L127.2,834.5L135.3,845.4L146.2,850.8L151.6,865.7L135.3,867.1L135.3,859.5L110.9,870.3L120.4,884.7L127.2,888.8L135.3,886.1L140.7,888.8L144.8,886.1L154.3,887.4L156.5,899.7L150.2,905.1L146.2,905.1L140.7,914.6L133.9,911.9L123.1,935.0L125.8,939.0L126.6,949.9L143.4,955.3L150.2,959.4L148.3,967.5L158.4,964.8L165.2,970.3L181.5,968.9L178.7,981.1L173.3,992.0L167.9,994.7L161.1,1001.5L158.4,1005.6L151.6,1006.9L146.2,1011.0L135.3,1017.8L144.8,1015.9L158.4,1009.6L166.5,1004.2L177.4,996.1L184.2,986.5L196.4,977.0L204.5,970.3L201.8,963.5L208.6,956.7L214.0,945.8L220.8,936.3L225.4,934.4L225.4,940.4L219.5,951.3L216.8,962.7L227.6,955.3L235.8,954.0L238.5,951.3L235.8,944.5L241.2,942.6L254.8,947.2L268.3,950.7L279.2,951.8L289.5,954.9L296.9,962.2L307.5,972.8L314.8,976.5L332.7,976.9L335.2,980.1L337.6,988.3L341.7,994.0L347.4,999.7L347.9,1007.8L356.3,1012.4L358.8,1004.6L351.4,997.2L343.3,985.0L337.6,974.4L327.0,964.7L323.8,957.3L314.8,962.2L311.5,969.5L308.3,962.2L297.7,952.4L294.4,952.4L285.5,947.6L285.5,803.4Z" fill="#f2797e" stroke="#fff" stroke-width="5.2" paint-order="stroke"/>
<path d="M114.9,951.8L123.1,949.9L123.1,954.5L116.3,954.5Z" fill="#f2797e"/>
<path d="M200.5,987.9L207.2,982.5L208.6,985.2L203.2,992.5Z" fill="#f2797e"/>
<path d="M285.5,803.4L294.4,806.2L305.0,812.4L315.3,819.7L324.6,810.7L329.0,802.9L340.9,806.7L351.4,798.0L362.0,794.4L366.4,802.6L372.9,797.7L373.4,789.2L388.6,806.7L395.4,798.5L396.2,806.7L407.6,806.7L408.1,799.3L426.4,810.4L439.4,814.3L449.2,819.7L458.1,820.2L464.2,826.7L456.5,835.2L466.8,841.3L485.0,836.8L491.9,833.9L496.4,845.7L507.5,835.2L503.3,824.6L510.3,820.2L518.4,820.2L521.7,823.8L526.6,832.7L536.3,832.7L540.0,836.0L549.0,841.4L558.7,837.3L568.5,836.8L569.0,827.9L572.6,824.6L582.4,828.7L582.7,844.6L585.3,845.0L589.7,832.8L593.8,832.3L598.3,814.0L589.7,801.0L581.5,791.2L581.5,770.9L589.4,759.9L596.2,763.2L605.2,771.7L612.5,792.0L608.7,801.8L616.9,805.9L616.9,814.0L618.2,823.8L627.5,812.7L634.2,823.0L634.5,836.8L639.7,849.9L650.8,835.2L654.0,820.5L654.8,799.4L660.5,802.3L669.5,802.6L678.5,810.8L681.7,821.4L673.9,830.3L681.7,840.1L678.5,846.6L665.4,859.6L658.1,859.6L654.0,855.6L650.8,859.6L646.7,869.4L643.4,878.4L639.4,885.7L631.2,894.2L621.4,895.5L616.6,905.2L616.6,911.8L609.7,912.2L599.9,925.2L595.8,940.7L591.3,951.3L591.3,971.3L600.4,971.7L604.8,983.9L609.7,993.2L618.6,989.3L630.9,996.9L639.8,1005.1L648.8,1010.0L656.9,1014.5L673.2,1014.8L673.5,1033.6L677.6,1045.0L683.8,1051.5L691.9,1057.7L695.2,1054.7L702.5,1043.3L698.5,1026.2L695.2,1018.1L701.7,1014.8L710.7,1005.9L715.9,996.1L712.3,978.2L703.3,969.2L707.4,956.2L707.4,942.4L703.3,922.8L705.5,919.9L717.2,923.6L730.7,923.6L748.1,940.7L755.5,941.0L755.8,953.8L760.4,966.0L764.9,970.9L770.1,980.1L780.7,970.0L791.6,953.8L799.5,971.7L811.7,992.0L808.4,999.7L817.4,1005.1L827.1,1014.8L835.3,1019.7L839.4,1024.6L842.6,1031.9L846.7,1032.8L846.7,1047.4L840.2,1054.7L830.4,1060.4L822.3,1067.8L810.9,1067.8L797.8,1064.2L786.4,1065.3L775.0,1071.9L766.1,1076.7L759.5,1085.7L753.8,1093.8L748.1,1099.5L749.8,1101.7L757.1,1097.9L762.0,1093.0L766.9,1089.0L780.7,1080.0L788.1,1080.0L793.8,1083.3L788.9,1087.3L786.4,1092.2L789.7,1098.7L791.0,1108.5L795.4,1112.6L801.1,1114.2L810.9,1110.9L816.6,1107.7L817.4,1110.9L811.7,1115.8L802.7,1119.1L792.9,1122.3L785.6,1128.1L787.2,1124.8L794.6,1116.6L792.9,1115.0L776.6,1115.3L772.6,1111.8L771.8,1100.4L767.7,1094.7L762.8,1093.8L757.9,1101.2L754.7,1106.9L753.0,1111.8L749.8,1113.4L749.0,1117.5L722.1,1117.5L720.4,1121.5L713.1,1124.8L707.4,1125.6L703.3,1128.1L691.1,1129.7L690.3,1137.0L680.5,1144.3L672.4,1144.3L673.2,1137.8L670.8,1124.8L664.3,1111.8L657.7,1107.7L641.4,1095.5L625.2,1092.2L621.1,1089.0L615.4,1086.0L604.8,1085.7L600.7,1081.1L594.7,1080.8L594.2,1076.7L591.8,1076.7L409.3,1078.6L401.7,1073.8L389.7,1064.1L376.7,1059.7L373.4,1053.2L372.4,1042.4L364.8,1030.4L355.6,1019.5L358.8,1013.5L358.8,1004.6L351.4,997.2L343.3,985.0L337.6,974.4L327.0,964.7L323.8,957.3L314.8,962.2L311.5,969.5L308.3,962.2L297.7,952.4L294.4,952.4L285.5,947.6Z" fill="#e8101b" stroke="#fff" stroke-width="5.2" paint-order="stroke"/>
<path d="M561.3,805.0L568.1,801.8L571.4,795.2L582.8,806.2L586.0,813.2L583.6,815.9L576.2,812.0L568.1,811.5Z" fill="#e8101b"/>
<path d="M338.4,1028.2L347.4,1028.2L343.3,1039.6Z" fill="#e8101b"/>
<path d="M373.0,1066.2L386.9,1066.9L387.6,1071.7L395.2,1078.2L399.5,1085.8L395.2,1083.6L384.3,1073.8L373.0,1068.4Z" fill="#e8101b"/>
<path d="M338.7,1028.2L346.9,1028.2L343.5,1039.1Z" fill="#e8101b"/>
<path d="M628.8,732.6L637.7,724.1L649.1,718.4L642.9,731.3L653.2,745.6L654.8,744.8L659.4,728.5L674.4,716.8L685.8,739.1L682.0,754.1L696.4,749.7L705.3,742.7L717.6,750.5L725.2,761.9L725.7,771.7L739.5,768.4L746.9,779.8L764.8,784.7L768.1,791.2L772.6,807.5L759.9,818.9L777.8,831.9L790.9,836.8L799.0,853.9L808.0,854.4L808.0,865.3L796.6,880.0L790.9,875.9L779.5,860.1L768.9,860.4L768.9,871.9L772.1,879.2L786.0,892.2L790.0,903.6L787.3,915.0L779.5,910.9L767.2,899.5L765.1,901.2L772.9,913.4L777.8,923.2L764.8,919.9L751.8,911.8L742.8,904.4L746.1,902.0L745.2,898.7L735.5,893.8L722.4,885.7L720.8,889.8L706.2,893.8L703.2,887.3L706.2,880.8L715.1,880.5L733.0,875.6L729.0,870.2L742.0,843.3L737.9,835.2L737.1,830.3L724.1,821.4L713.0,817.3L715.9,814.0L711.0,800.2L702.1,798.6L697.2,790.9L691.5,795.3L679.3,798.6L668.7,796.9L654.0,793.7L633.7,787.1L629.9,779.8L637.7,772.5L636.1,769.2L624.7,768.4L624.7,749.7Z" fill="#e8101b"/>
<path d="M685.5,718.7L688.2,716.3L700.4,720.4L712.7,731.8L712.3,733.9L700.4,734.2L693.9,737.1L685.5,726.9Z" fill="#e8101b"/>
<path d="M711.5,832.3L718.4,829.2L720.8,831.9L720.8,843.3L717.6,846.6L711.5,846.6Z" fill="#e8101b"/>
<path d="M561.2,805.6L568.0,802.3L571.4,795.3L582.7,806.7L585.9,813.2L583.7,816.0L575.0,812.4L566.9,812.4Z" fill="#e8101b"/>
<path d="M651.3,871.9L656.0,871.9L656.5,880.0L661.4,876.7L665.4,881.6L669.5,889.0L677.6,893.0L678.1,897.4L683.3,897.9L685.5,900.0L683.3,902.8L676.5,902.8L671.6,894.7L664.6,901.2L654.0,910.9L650.4,904.4L645.1,902.5L651.3,897.9Z" fill="#e8101b"/>
<path d="M667.4,915.0L678.1,915.0L677.6,917.5L670.6,924.0L665.1,920.2Z" fill="#e8101b"/>
<path d="M689.9,927.7L693.1,924.8L694.4,926.4L690.7,929.7Z" fill="#e8101b"/>
<path d="M828.8,1093.8L832.0,1087.3L830.4,1084.9L836.9,1071.0L841.8,1061.3L848.3,1054.7L850.8,1053.9L846.7,1060.4L844.2,1069.4L843.4,1075.1L846.7,1074.3L853.2,1078.4L858.9,1080.0L859.7,1077.6L863.3,1079.2L861.4,1086.5L864.6,1085.7L867.9,1087.3L867.9,1095.5L865.4,1101.2L863.3,1099.5L863.3,1089.8L860.5,1089.0L858.1,1095.5L854.8,1093.8Z" fill="#e8101b"/>
<path d="M795.4,1071.0L804.3,1075.1L804.8,1076.7L797.8,1076.7Z" fill="#e8101b"/>
<path d="M409.3,1078.6L591.8,1076.7L594.2,1076.7L594.7,1080.8L600.7,1081.1L604.8,1085.7L615.4,1086.0L621.1,1089.0L625.2,1092.2L641.4,1095.5L657.7,1107.7L664.3,1111.8L670.8,1124.8L673.2,1137.8L672.4,1144.3L680.5,1144.3L690.3,1137.0L691.1,1129.7L703.3,1128.1L707.4,1125.6L713.1,1124.8L720.4,1121.5L722.1,1117.5L749.0,1117.5L749.8,1113.4L753.0,1111.8L754.7,1106.9L757.9,1101.2L762.8,1093.8L767.7,1094.7L771.8,1100.4L772.6,1111.8L773.1,1118.4L766.6,1124.9L753.5,1128.1L748.1,1134.7L747.0,1141.2L752.5,1149.9L738.3,1152.0L727.5,1159.6L726.4,1161.8L721.0,1166.2L718.8,1171.6L714.4,1168.3L713.4,1175.9L709.0,1178.1L711.8,1182.5L712.3,1191.1L715.5,1192.2L716.6,1197.7L712.3,1205.3L703.6,1206.3L697.1,1211.8L694.9,1217.2L687.3,1221.5L677.5,1233.5L677.5,1243.3L680.8,1249.8L685.8,1256.3L685.8,1280.2L683.0,1280.2L680.8,1275.8L673.6,1263.9L673.2,1249.8L664.5,1241.5L655.8,1245.4L654.7,1241.5L625.8,1241.5L625.4,1247.6L620.0,1248.7L612.4,1247.2L591.7,1247.6L587.4,1255.2L577.6,1256.3L574.4,1260.6L573.3,1274.1L563.5,1273.7L563.5,1265.4L560.2,1265.0L548.3,1248.3L539.6,1248.3L534.2,1252.4L528.7,1247.6L528.7,1244.4L514.6,1230.7L503.8,1230.7L502.7,1233.5L485.3,1234.1L471.2,1231.3L460.3,1228.1L448.4,1227.0L447.3,1223.7L438.6,1216.1L437.9,1211.8L428.8,1211.1L421.2,1204.2L413.6,1191.1L412.1,1183.5L403.8,1172.7L403.8,1165.1L399.5,1159.6L399.5,1121.6L403.4,1112.9L399.5,1102.1L399.5,1091.2L404.9,1093.4L408.2,1101.0L411.5,1099.9L411.5,1085.8Z" fill="#f2797e" stroke="#fff" stroke-width="5.2" paint-order="stroke"/>
<path d="M448.4,1227.0L460.3,1228.1L471.2,1231.3L485.3,1234.1L502.7,1233.5L503.8,1230.7L514.6,1230.7L528.7,1244.4L528.7,1247.6L534.2,1252.4L539.6,1248.3L548.3,1248.3L560.2,1265.0L563.5,1265.4L563.5,1273.7L573.3,1274.1L572.8,1280.2L568.9,1286.7L568.9,1303.0L573.3,1312.8L582.0,1322.5L583.0,1326.9L592.8,1332.3L605.8,1332.3L612.4,1326.9L620.0,1321.5L620.6,1314.9L628.7,1309.5L642.8,1309.5L638.4,1317.1L638.4,1325.8L633.0,1330.1L621.1,1336.7L618.9,1339.9L612.4,1341.0L618.9,1343.2L617.8,1345.4L612.4,1347.5L609.1,1350.8L597.2,1341.0L590.6,1341.0L584.1,1345.4L577.6,1345.4L571.1,1341.0L560.2,1341.0L549.4,1334.5L540.7,1331.2L530.9,1322.5L524.4,1319.3L524.4,1308.4L521.1,1299.7L499.4,1278.0L498.3,1271.5L490.7,1263.9L489.6,1259.6L484.2,1258.5L477.7,1249.8L473.4,1241.1L472.9,1233.5L462.5,1230.2L458.1,1229.1L457.1,1232.4L461.4,1240.0L469.0,1252.0L471.2,1258.5L482.0,1271.5L486.4,1282.4L494.4,1295.8L491.8,1296.5L477.7,1282.4L476.6,1274.8L463.6,1263.9L462.5,1254.1L456.0,1247.6L453.8,1240.0L448.4,1230.2Z" fill="#ea3a42" stroke="#fff" stroke-width="5.2" paint-order="stroke"/>
<path d="M759.8,1444.6L772.9,1444.6L773.9,1447.9L788.1,1447.9L794.1,1442.5L801.1,1438.1L794.6,1437.0L794.1,1426.8L801.1,1431.6L820.2,1418.6L820.6,1427.2L822.4,1428.3L822.8,1443.5L836.9,1443.5L841.3,1439.2L844.5,1443.5L848.9,1443.5L850.0,1440.3L871.7,1439.8L878.2,1428.3L881.5,1431.6L881.5,1439.2L885.4,1444.6L881.5,1452.2L888.0,1454.4L895.6,1460.9L901.0,1457.7L921.6,1465.3L921.6,1469.6L942.3,1473.9L954.2,1475.0L965.1,1479.4L973.8,1488.1L983.5,1488.1L985.7,1492.4L985.7,1512.0L971.6,1526.1L966.2,1536.3L959.7,1536.9L959.7,1572.8L955.3,1577.1L954.2,1585.8L946.6,1594.5L946.2,1601.0L937.9,1606.4L920.6,1610.8L907.5,1620.6L903.9,1624.1L895.2,1627.8L894.6,1650.1L887.6,1657.7L880.0,1670.8L877.8,1676.2L873.5,1676.2L868.1,1686.0L867.0,1679.5L853.9,1666.4L849.6,1666.4L844.2,1661.0L848.5,1654.5L855.0,1646.9L861.5,1641.5L867.6,1638.6L867.6,1633.8L863.7,1629.5L859.8,1629.1L859.4,1625.2L862.6,1621.9L863.0,1617.3L855.4,1616.2L855.4,1609.7L850.0,1601.0L837.6,1600.6L837.6,1581.0L841.3,1576.0L836.9,1570.6L835.8,1562.3L823.9,1557.6L823.9,1550.0L816.3,1541.9L812.0,1541.3L806.5,1537.6L794.1,1536.9L789.8,1528.2L789.1,1515.9L773.9,1519.6L769.6,1523.2L754.4,1523.2L753.3,1515.2L747.9,1518.9L742.0,1519.6L737.7,1515.2L737.7,1512.0L733.8,1506.5L733.8,1500.0L737.0,1498.9L737.7,1488.1L744.6,1483.7L759.4,1481.5L763.1,1464.2L763.1,1454.4L759.4,1450.1Z" fill="#e9212a" stroke="#fff" stroke-width="5.2" paint-order="stroke"/>
<path d="M779.0,1599.1L789.9,1604.5L793.1,1607.8L797.5,1604.5L805.1,1604.5L818.1,1616.9L822.5,1617.6L831.1,1621.9L840.9,1630.6L831.1,1637.8L839.8,1642.1L848.5,1642.1L858.3,1632.8L860.5,1631.7L863.7,1634.9L861.5,1637.1L855.0,1643.6L849.6,1651.2L843.1,1661.0L835.5,1668.2L835.5,1684.9L831.1,1685.5L831.1,1695.8L838.7,1703.4L839.4,1708.8L843.1,1713.1L834.4,1722.9L826.8,1727.2L813.8,1731.6L805.1,1731.6L804.0,1733.8L807.2,1738.1L804.0,1742.5L807.2,1746.8L805.1,1749.4L786.6,1749.4L786.6,1759.8L791.0,1764.6L796.4,1762.4L789.9,1767.4L786.0,1772.9L786.0,1780.5L782.3,1783.7L777.9,1784.2L773.6,1793.5L769.2,1798.9L779.0,1808.7L782.3,1808.7L782.3,1815.2L773.6,1822.8L769.2,1831.5L760.5,1840.2L760.5,1853.2L761.6,1857.1L746.4,1857.6L741.0,1846.7L741.0,1840.2L737.7,1840.2L733.8,1829.3L741.0,1826.1L741.0,1809.8L746.0,1801.1L746.0,1785.9L749.7,1785.5L749.7,1781.5L746.0,1780.5L745.3,1771.8L742.1,1765.3L746.0,1759.8L746.0,1741.4L749.7,1733.8L750.8,1716.4L755.1,1707.7L755.1,1701.2L759.0,1694.7L759.0,1686.0L755.1,1672.9L759.0,1665.3L759.0,1651.2L764.9,1643.6L768.1,1640.4L768.1,1621.9L775.8,1618.2L775.8,1607.8Z" fill="#fadcdd" stroke="#fff" stroke-width="5.2" paint-order="stroke"/>
<path d="M768.1,1876.0L779.0,1886.9L786.0,1886.9L786.0,1891.9L780.1,1891.9L775.8,1888.0L768.1,1887.5Z" fill="#fadcdd" stroke="#fff" stroke-width="5.2" paint-order="stroke"/>
<path d="M1410.4,814.3L1424.8,808.9L1430.2,799.9L1441.1,810.3L1458.7,815.1L1484.5,836.1L1488.6,844.2L1487.2,853.7L1481.8,859.1L1473.7,863.2L1441.9,851.0L1437.0,857.0L1450.1,875.4L1450.1,892.3L1458.7,897.1L1465.5,902.0L1466.3,891.7L1461.5,886.3L1464.7,882.2L1480.5,893.1L1487.2,887.6L1483.2,874.9L1498.9,860.5L1506.3,867.3L1510.3,864.6L1513.6,853.7L1510.3,845.0L1515.8,836.1L1511.1,825.2L1523.4,827.9L1526.6,837.4L1519.0,838.0L1519.0,846.9L1524.4,858.6L1534.8,854.2L1539.7,840.1L1548.3,834.2L1574.1,819.8L1571.4,832.0L1582.3,832.5L1586.4,827.9L1606.7,820.6L1616.2,829.3L1621.7,814.3L1618.4,804.8L1621.1,798.9L1644.7,810.3L1673.2,832.5L1678.1,821.7L1669.2,813.0L1667.8,807.5L1662.4,804.8L1665.6,796.1L1661.0,781.7L1661.0,775.0L1674.6,757.3L1678.1,741.0L1680.8,733.7L1696.3,741.0L1696.3,750.5L1692.2,766.8L1696.3,775.0L1697.1,813.0L1704.5,826.5L1688.2,861.8L1699.0,862.4L1700.4,857.8L1708.5,853.7L1709.9,845.6L1716.7,838.8L1713.4,823.8L1717.2,813.0L1709.9,811.6L1709.1,799.4L1713.4,783.1L1705.3,766.8L1716.7,755.4L1714.0,736.9L1718.9,751.9L1715.3,770.9L1723.5,775.5L1726.2,774.4L1722.1,758.7L1734.3,750.5L1745.2,750.0L1758.8,762.7L1760.7,760.0L1752.5,745.1L1752.5,720.1L1762.8,716.6L1776.4,715.8L1795.4,711.2L1787.3,696.2L1795.4,684.8L1803.6,681.3L1817.1,667.7L1834.8,667.7L1834.8,659.6L1849.7,655.5L1858.4,663.6L1873.6,646.0L1886.4,646.0L1887.2,635.1L1894.5,624.3L1906.7,612.6L1916.2,618.8L1909.5,626.2L1910.8,629.7L1923.0,633.8L1927.9,646.8L1933.9,642.5L1954.1,642.5L1965.8,654.1L1970.4,662.3L1970.4,674.5L1960.4,684.0L1945.4,695.7L1940.8,705.7L1959.5,715.8L1965.8,712.5L1966.6,727.4L1968.5,728.8L1973.1,719.3L1984.8,715.8L2001.1,720.1L2005.2,732.9L2033.7,737.5L2034.5,716.6L2045.9,720.1L2057.3,720.1L2065.4,732.3L2069.8,744.6L2065.4,757.3L2073.6,769.5L2085.3,781.2L2094.2,760.8L2102.4,767.6L2115.1,764.1L2127.9,771.7L2133.3,764.1L2146.4,767.6L2139.0,744.6L2146.4,737.8L2204.7,750.0L2212.9,761.9L2231.9,780.4L2257.7,776.3L2269.9,780.4L2274.0,788.5L2274.5,802.7L2284.3,807.0L2293.0,802.7L2301.1,802.7L2316.1,807.0L2326.9,807.0L2339.7,819.8L2350.5,814.3L2345.9,800.8L2346.7,795.3L2366.8,802.7L2379.9,798.6L2400.2,806.2L2427.4,832.8L2442.3,843.7L2450.5,861.8L2447.7,851.0L2461.3,853.7L2472.7,865.1L2468.1,872.2L2455.9,872.7L2455.1,889.0L2450.5,890.4L2434.7,879.5L2428.7,874.1L2420.0,872.7L2420.0,864.6L2409.2,869.4L2411.9,875.4L2407.6,883.6L2392.1,887.6L2398.2,901.7L2403.7,918.0L2392.8,916.7L2372.4,928.3L2365.7,930.2L2345.3,952.8L2337.1,946.5L2319.5,953.9L2314.1,951.1L2300.5,955.5L2292.3,969.6L2286.9,979.1L2286.9,984.5L2295.1,985.3L2295.1,998.1L2286.9,1007.6L2286.1,1015.8L2278.8,1019.8L2274.7,1032.0L2266.5,1037.5L2265.2,1046.2L2255.7,1055.9L2247.5,1013.0L2250.3,999.5L2255.7,984.5L2267.9,980.5L2270.6,971.0L2280.1,958.7L2291.0,947.9L2301.8,941.1L2307.3,916.7L2297.8,920.7L2291.0,931.6L2276.1,944.6L2272.0,929.4L2253.0,933.8L2235.3,954.7L2241.6,964.7L2221.7,968.2L2219.8,960.1L2210.9,955.5L2201.4,962.8L2181.0,960.1L2157.9,964.2L2136.2,988.6L2109.1,1017.1L2121.3,1022.5L2122.6,1026.6L2132.1,1030.7L2137.6,1028.0L2144.4,1028.0L2152.5,1038.8L2152.5,1047.0L2148.4,1053.8L2147.6,1070.1L2143.0,1083.6L2133.5,1098.6L2130.8,1102.6L2121.3,1113.5L2113.1,1125.7L2109.1,1131.2L2100.9,1136.6L2094.1,1133.9L2087.3,1139.3L2086.0,1139.3L2086.0,1118.4L2099.6,1117.6L2102.3,1105.4L2110.4,1086.9L2095.5,1091.2L2084.6,1090.4L2076.5,1074.9L2062.9,1074.1L2057.5,1057.8L2056.1,1053.8L2048.0,1036.1L2016.8,1036.9L2016.8,1049.7L2008.6,1059.2L2000.5,1067.3L1989.6,1071.4L1981.5,1074.1L1978.7,1070.1L1954.3,1076.9L1936.7,1076.9L1923.1,1065.2L1908.1,1066.0L1900.0,1067.3L1894.5,1064.6L1893.2,1053.8L1882.3,1051.6L1872.0,1047.8L1862.8,1060.6L1866.0,1064.6L1863.3,1070.1L1847.0,1067.3L1838.9,1064.6L1832.1,1064.6L1828.0,1060.6L1799.5,1075.5L1792.7,1073.3L1787.3,1074.1L1771.0,1059.7L1760.1,1059.2L1751.4,1056.5L1746.5,1061.9L1733.0,1036.9L1723.5,1026.6L1728.9,1021.2L1703.1,1036.1L1703.1,1026.6L1695.0,1021.7L1689.5,1026.6L1685.5,1012.5L1676.0,1012.5L1665.1,1017.9L1651.5,1021.2L1625.7,1025.3L1620.3,1028.0L1624.4,1032.0L1619.5,1037.5L1620.3,1042.9L1616.2,1050.5L1625.7,1058.7L1617.6,1059.2L1612.1,1062.5L1604.0,1059.2L1597.2,1059.2L1585.0,1064.1L1575.5,1059.2L1563.3,1051.6L1556.5,1051.1L1537.5,1067.3L1533.4,1065.2L1528.0,1079.6L1523.9,1086.9L1528.0,1093.1L1536.9,1093.1L1540.2,1099.4L1537.5,1104.0L1541.6,1105.4L1541.6,1110.8L1536.1,1110.8L1528.0,1122.2L1532.0,1132.5L1532.0,1140.7L1536.1,1152.1L1532.0,1147.4L1526.6,1147.4L1521.2,1140.7L1513.0,1135.2L1507.6,1137.9L1502.2,1133.9L1494.0,1133.9L1480.4,1130.4L1466.3,1118.1L1475.1,1108.7L1472.8,1104.0L1478.6,1101.0L1478.6,1095.2L1475.1,1095.2L1475.1,1093.4L1482.7,1092.8L1482.7,1072.8L1475.7,1069.3L1469.8,1068.7L1463.9,1064.6L1459.2,1068.1L1452.2,1064.6L1452.2,1055.8L1449.2,1055.2L1445.1,1052.9L1448.1,1051.7L1443.4,1042.9L1434.6,1046.4L1431.0,1046.4L1427.5,1041.1L1425.1,1035.2L1435.5,1035.2L1435.5,1029.9L1431.3,1029.3L1430.4,1025.2L1425.1,1025.2L1421.0,1018.2L1426.9,1013.5L1416.9,1004.1L1412.5,1009.4L1412.8,1003.5L1405.8,1000.0L1405.8,988.2L1404.0,985.3L1405.2,982.3L1401.1,970.0L1413.9,952.0L1407.2,946.5L1416.7,932.9L1426.2,923.4L1426.2,914.8L1416.7,905.8L1421.3,896.3L1414.8,880.0L1418.0,872.7L1415.3,853.7L1418.0,840.1L1409.9,825.2Z" fill="#eb3841" stroke="#fff" stroke-width="5.2" paint-order="stroke"/>
<path d="M1561.4,753.8L1566.0,749.2L1566.0,739.7L1578.2,719.3L1575.5,715.2L1591.8,693.5L1588.5,684.8L1625.7,654.9L1647.4,646.0L1656.9,637.8L1667.3,634.3L1670.5,644.1L1667.3,651.4L1624.4,677.2L1613.5,690.8L1604.0,704.4L1594.5,723.4L1587.7,739.7L1583.6,750.5L1584.2,766.8L1595.0,781.7L1574.9,777.1L1574.1,769.5L1561.4,764.6Z" fill="#eb3841"/>
<path d="M1523.1,505.6L1536.9,500.7L1536.1,510.2L1551.1,495.8L1557.8,502.1L1553.8,509.4L1545.6,512.9L1540.7,517.6L1540.7,522.4L1534.2,528.7L1527.4,518.4L1530.7,508.9Z" fill="#eb3841"/>
<path d="M1822.6,517.6L1838.9,489.9L1854.6,482.3L1866.0,502.1L1870.1,514.3L1879.0,541.5L1879.0,569.4L1864.7,573.5L1847.0,564.5L1838.9,548.2L1830.2,522.4Z" fill="#eb3841"/>
<path d="M1879.0,597.9L1893.2,556.4L1913.5,576.2L1913.5,587.1Z" fill="#eb3841"/>
<path d="M2125.4,678.0L2129.5,663.6L2136.9,655.5L2153.1,659.6L2177.6,671.8L2170.8,685.4L2150.4,685.9L2136.9,694.0Z" fill="#eb3841"/>
<path d="M2185.7,673.1L2196.6,677.2L2211.5,684.0L2206.1,690.8L2197.9,690.8Z" fill="#eb3841"/>
<path d="M2146.9,724.7L2151.2,715.8L2157.2,715.8L2165.4,724.7Z" fill="#eb3841"/>
<path d="M2402.9,776.3L2412.4,766.8L2426.0,771.4L2419.2,775.8L2408.4,777.7Z" fill="#eb3841"/>
<path d="M2156.6,1036.1L2162.0,1033.4L2164.7,1040.2L2164.7,1053.8L2171.5,1076.9L2167.4,1078.2L2164.7,1083.6L2160.7,1090.4L2164.7,1097.2L2164.7,1104.0L2160.1,1104.0L2160.1,1070.1L2156.6,1048.3Z" fill="#eb3841"/>
<path d="M1351.3,1019.8L1359.5,1015.3L1367.6,1020.1Z" fill="#eb3841"/>
<path d="M1799.5,1080.9L1806.3,1089.1L1815.8,1094.5L1818.5,1105.4L1815.8,1113.5L1819.9,1117.6L1836.1,1117.6L1849.7,1129.8L1852.4,1136.6L1871.4,1142.0L1879.6,1143.9L1885.0,1141.2L1909.5,1148.8L1910.0,1152.9L1920.3,1144.7L1939.3,1144.7L1950.2,1139.3L1957.0,1129.8L1955.6,1125.7L1961.0,1118.9L1966.5,1121.7L1980.1,1116.2L1976.0,1116.2L1986.9,1110.8L2008.6,1104.0L2011.3,1099.9L2007.2,1091.8L1991.0,1091.8L1982.8,1087.7L1984.2,1083.6L1989.6,1071.4L2000.5,1067.3L2008.6,1059.2L2016.8,1049.7L2016.8,1036.9L2048.0,1036.1L2056.1,1053.8L2057.5,1057.8L2062.9,1074.1L2076.5,1074.9L2084.6,1090.4L2095.5,1091.2L2110.4,1086.9L2102.3,1105.4L2099.6,1117.6L2086.0,1118.4L2086.0,1139.3L2073.8,1147.4L2065.6,1148.8L2057.5,1147.4L2052.0,1154.2L2046.6,1163.7L2038.5,1162.4L2030.3,1165.1L2024.9,1166.5L2029.0,1159.7L2023.5,1155.6L2014.0,1159.7L2005.9,1166.5L1996.4,1169.2L1996.4,1184.1L2004.5,1184.1L2005.9,1188.2L2016.8,1185.5L2026.3,1188.2L2019.5,1192.2L2011.3,1199.0L2005.9,1208.5L2013.5,1216.7L2014.0,1224.8L2022.2,1233.0L2018.1,1238.4L2022.2,1245.2L2022.2,1257.4L2011.3,1276.4L2009.8,1276.4L2001.5,1284.6L1993.3,1289.3L1983.9,1297.8L1975.1,1298.1L1973.3,1299.9L1971.6,1298.1L1965.7,1303.4L1958.0,1307.0L1949.0,1307.2L1948.6,1314.6L1946.9,1315.2L1943.9,1312.2L1947.5,1308.7L1946.9,1307.0L1937.5,1302.5L1933.4,1305.8L1929.3,1302.3L1925.5,1302.0L1925.5,1298.5L1921.0,1294.0L1915.1,1294.0L1911.0,1298.1L1889.3,1298.1L1888.7,1302.0L1882.8,1305.2L1882.2,1302.3L1878.1,1302.0L1878.1,1294.0L1873.8,1293.4L1873.8,1289.1L1865.2,1288.7L1865.2,1282.3L1873.8,1274.0L1873.8,1264.4L1869.3,1259.9L1869.3,1255.0L1858.1,1254.7L1860.5,1251.7L1854.6,1246.4L1850.5,1250.3L1846.4,1250.3L1828.8,1258.8L1820.5,1258.8L1815.8,1254.7L1808.8,1261.1L1808.2,1259.0L1786.1,1258.8L1777.6,1250.3L1772.9,1250.0L1764.7,1241.7L1765.6,1245.2L1756.1,1243.8L1750.6,1238.4L1742.5,1235.7L1737.9,1227.0L1742.5,1226.2L1743.8,1212.6L1747.9,1211.8L1750.6,1208.5L1750.6,1198.2L1722.1,1198.2L1718.0,1188.2L1712.6,1184.1L1712.6,1173.2L1709.9,1171.9L1709.9,1162.9L1718.0,1162.4L1724.8,1156.9L1745.2,1142.8L1750.6,1142.8L1756.1,1135.2L1746.5,1121.7L1762.8,1116.2L1768.3,1094.5L1785.9,1098.6L1787.3,1086.4Z" fill="#f2767b" stroke="#fff" stroke-width="5.2" paint-order="stroke"/>
<path d="M1187.6,971.8L1191.7,975.0L1197.9,972.3L1190.0,988.9L1199.8,984.0L1203.4,984.0L1203.4,990.5L1199.3,1005.2L1203.9,1006.0L1212.8,1023.1L1217.2,1023.4L1221.0,1033.7L1221.0,1040.2L1229.1,1040.7L1229.5,1047.5L1225.9,1052.4L1228.8,1056.5L1217.7,1059.7L1204.7,1064.6L1198.2,1058.9L1195.3,1068.7L1187.1,1064.6L1191.7,1057.3L1195.7,1056.5L1191.7,1054.8L1185.2,1049.5L1192.5,1048.3L1188.4,1041.0L1188.1,1032.0L1200.1,1036.1L1199.8,1028.8L1192.5,1019.8L1187.6,1016.6L1187.6,1004.3L1185.2,1009.2L1182.7,1008.4L1182.7,999.5L1179.5,995.4Z" fill="#ec4c54" stroke="#fff" stroke-width="5.2" paint-order="stroke"/>
<path d="M1170.2,1014.6L1173.8,1014.1L1181.1,1021.4L1177.8,1028.8L1174.6,1026.3L1170.2,1026.0Z" fill="#ec4c54" stroke="#fff" stroke-width="5.2" paint-order="stroke"/>
<path d="M1188.4,1083.7L1210.4,1083.3L1206.3,1076.8L1213.7,1079.3L1226.7,1071.1L1233.5,1058.9L1238.1,1062.2L1250.3,1071.6L1256.8,1075.2L1272.3,1079.3L1269.9,1085.0L1268.2,1093.9L1263.0,1100.4L1260.1,1104.5L1260.4,1108.6L1264.2,1108.6L1265.8,1113.5L1266.1,1125.7L1268.6,1127.3L1261.7,1133.0L1255.2,1133.8L1238.1,1134.2L1237.6,1142.5L1227.5,1142.8L1217.7,1141.2L1205.8,1134.7L1209.3,1127.3L1213.7,1109.4L1202.3,1096.4L1191.7,1091.5Z" fill="#eb3a43" stroke="#fff" stroke-width="5.2" paint-order="stroke"/>
<path d="M1274.7,1142.8L1281.3,1140.0L1281.6,1143.6L1278.8,1150.1L1277.2,1149.3Z" fill="#eb3a43"/>
<path d="M1158.8,1137.9L1164.0,1131.4L1181.9,1131.4L1186.0,1134.7L1204.7,1135.5L1214.5,1142.0L1227.5,1143.9L1238.1,1143.6L1238.1,1146.9L1234.0,1151.4L1225.9,1155.0L1221.0,1155.8L1221.0,1161.5L1216.1,1170.5L1219.7,1173.8L1204.7,1190.0L1190.9,1190.5L1186.8,1194.4L1178.6,1194.4L1170.5,1186.3L1170.8,1183.9L1175.4,1183.0L1170.8,1179.1L1173.8,1172.1L1171.3,1166.4L1175.1,1165.6L1175.4,1155.0L1179.0,1152.6L1173.8,1146.9L1166.4,1146.9L1166.1,1142.8L1162.0,1142.3L1161.5,1138.4Z" fill="#e9202a" stroke="#fff" stroke-width="5.2" paint-order="stroke"/>
<path d="M1274.7,1019.3L1282.1,1019.0L1286.2,1023.1L1290.2,1022.7L1290.2,1026.7L1300.5,1026.3L1301.1,1023.9L1307.3,1026.3L1311.9,1031.2L1312.2,1043.4L1316.0,1047.5L1315.5,1057.3L1313.0,1055.3L1307.3,1060.5L1304.9,1064.6L1300.0,1065.1L1300.0,1076.8L1307.0,1083.3L1307.0,1085.8L1303.3,1086.6L1302.8,1090.7L1295.1,1094.7L1284.5,1094.4L1280.4,1095.6L1273.9,1091.5L1273.1,1094.4L1269.9,1093.9L1270.7,1085.0L1272.8,1079.3L1263.3,1076.8L1262.0,1052.4L1266.1,1045.9L1266.1,1032.0L1273.9,1031.7L1278.8,1025.5Z" fill="#f2757b" stroke="#fff" stroke-width="5.2" paint-order="stroke"/>
<path d="M1266.1,1114.3L1273.1,1110.2L1280.4,1109.4L1282.9,1111.0L1290.2,1104.5L1291.9,1101.3L1298.9,1101.3L1299.2,1105.3L1306.5,1105.8L1309.3,1111.4L1299.2,1112.7L1298.9,1117.6L1309.0,1132.2L1317.1,1147.7L1324.4,1148.5L1325.2,1152.6L1330.1,1153.1L1337.5,1160.7L1340.7,1161.5L1338.3,1163.5L1329.3,1160.2L1324.9,1165.6L1332.6,1169.4L1326.9,1179.5L1325.2,1181.9L1322.0,1181.1L1324.9,1174.6L1322.0,1165.6L1308.1,1151.8L1304.1,1150.9L1295.1,1144.4L1289.4,1140.4L1287.0,1135.5L1287.0,1129.8L1281.3,1123.3L1276.4,1124.1L1269.9,1127.3L1266.1,1125.7Z" fill="#eb3a43" stroke="#fff" stroke-width="5.2" paint-order="stroke"/>
<path d="M1301.6,1181.1L1304.9,1179.5L1309.0,1183.5L1319.5,1178.6L1317.9,1184.3L1316.3,1189.2L1313.0,1190.5L1307.3,1186.0Z" fill="#eb3a43"/>
<path d="M1274.7,1157.5L1280.4,1156.6L1281.3,1168.1L1277.2,1169.7L1274.7,1168.1Z" fill="#eb3a43"/>
<path d="M2056.9,1180.8L2067.0,1180.0L2072.4,1189.5L2073.8,1197.7L2067.0,1205.8L2056.9,1206.4L2056.9,1193.6L2060.2,1192.2L2056.9,1185.5Z" fill="#f3878b" stroke="#fff" stroke-width="5.2" paint-order="stroke"/>
<path d="M2156.6,1118.9L2160.1,1116.8L2171.5,1128.4L2178.3,1132.5L2170.2,1136.6L2167.4,1144.7L2156.6,1139.3L2152.5,1136.6L2149.8,1144.7L2147.1,1148.8L2143.8,1142.8L2147.1,1136.6L2155.2,1135.2Z" fill="#f59ea1"/>
<path d="M2148.4,1153.7L2153.9,1154.2L2156.6,1165.1L2151.2,1174.6L2147.6,1181.4L2147.6,1199.0L2138.9,1205.8L2126.7,1208.5L2114.5,1214.0L2110.4,1207.2L2090.1,1210.7L2098.2,1205.8L2114.5,1200.4L2119.9,1196.3L2124.8,1189.5L2129.4,1192.2L2143.0,1178.7L2147.1,1167.8Z" fill="#f59ea1"/>
<path d="M2077.8,1219.9L2084.6,1216.1L2090.1,1222.7L2087.3,1233.0L2083.3,1235.7L2081.4,1224.8Z" fill="#f59ea1"/>
<path d="M2095.5,1216.7L2107.7,1214.0L2103.6,1219.4L2096.9,1221.6Z" fill="#f59ea1"/>
<path d="M2095.6,1529.3L2102.8,1534.3L2122.0,1534.3L2113.7,1543.3L2113.7,1556.9L2119.8,1556.9L2134.5,1565.9L2140.1,1569.3L2145.8,1574.5L2151.4,1565.9L2156.0,1565.5L2156.0,1539.9L2159.8,1538.8L2160.5,1527.5L2165.0,1534.3L2165.5,1545.6L2171.8,1552.4L2177.9,1552.8L2178.6,1567.1L2183.1,1569.3L2183.1,1578.4L2192.1,1587.4L2197.3,1588.5L2200.1,1595.3L2213.2,1608.9L2213.2,1613.4L2225.4,1624.7L2230.6,1634.9L2230.6,1667.7L2226.7,1675.6L2222.7,1683.5L2218.2,1689.2L2212.5,1706.1L2209.1,1710.7L2208.7,1720.8L2205.7,1722.4L2196.7,1723.1L2192.1,1726.9L2183.8,1731.0L2177.0,1723.8L2172.9,1724.2L2167.3,1730.6L2161.6,1726.9L2153.7,1726.5L2146.9,1718.6L2144.7,1714.1L2140.1,1707.3L2134.5,1705.0L2134.0,1693.7L2127.7,1684.2L2117.5,1695.3L2113.7,1692.6L2117.5,1689.2L2108.5,1680.1L2098.3,1674.5L2089.3,1671.1L2075.7,1671.1L2067.8,1674.5L2053.1,1676.7L2044.0,1681.3L2037.2,1686.9L2031.6,1688.1L2027.1,1692.1L2016.9,1688.1L2007.8,1689.2L1998.3,1699.4L1994.3,1697.1L1982.5,1691.4L1987.0,1686.9L1987.0,1672.2L1982.5,1660.9L1981.8,1654.1L1973.9,1646.2L1970.5,1636.0L1973.5,1634.9L1973.9,1619.1L1969.4,1617.9L1973.9,1608.9L1977.3,1601.0L1985.2,1596.5L1994.3,1595.8L2007.8,1590.8L2009.0,1588.1L2021.0,1587.4L2021.9,1581.8L2030.0,1577.7L2030.5,1568.2L2037.7,1568.2L2042.9,1558.0L2047.4,1552.8L2051.9,1548.3L2062.1,1547.8L2066.6,1552.8L2077.5,1552.4L2077.9,1544.5L2082.0,1543.3L2082.9,1536.5L2095.6,1534.3Z" fill="#e9222b"/>
<path d="M2177.4,1750.2L2181.5,1752.5L2196.7,1752.5L2199.6,1758.6L2195.5,1767.2L2186.5,1770.6L2183.1,1762.7L2182.0,1758.2Z" fill="#e9222b"/>
<path d="M1882.7,1410.3L1888.9,1409.5L1892.5,1415.2L1897.0,1415.2L1897.0,1418.5L1901.1,1422.5L1900.6,1433.9L1905.2,1438.8L1904.8,1440.4L1900.3,1440.4L1896.2,1434.7L1892.1,1433.9L1891.3,1429.0L1887.2,1425.0L1887.2,1418.5L1882.7,1413.6Z" fill="#f3878b"/>
<path d="M1956.5,1436.4L1968.7,1436.1L1972.8,1431.5L1975.2,1425.8L1981.7,1423.3L1982.0,1418.5L1991.5,1410.0L2001.3,1418.5L2004.8,1418.5L2004.5,1419.8L2001.3,1420.1L2000.4,1423.7L1984.2,1424.2L1980.1,1430.7L1975.2,1440.4L1971.6,1443.7L1964.6,1441.3L1958.9,1444.5L1950.8,1444.5L1956.5,1442.9Z" fill="#f3878b" stroke="#fff" stroke-width="5.2" paint-order="stroke"/>
<path d="M1939.4,1451.0L1943.4,1443.7L1947.5,1447.8L1957.3,1448.1L1964.6,1444.5L1971.6,1447.8L1976.8,1442.1L1983.3,1427.4L1992.3,1427.4L1996.1,1438.0L1997.7,1445.3L1993.1,1451.0L1995.1,1459.2L1988.2,1463.3L1987.4,1467.3L1984.2,1474.7L1978.5,1478.7L1969.5,1472.2L1960.5,1473.8L1947.5,1471.4L1946.7,1464.1L1943.4,1459.2L1942.6,1455.1Z" fill="#f5a0a3" stroke="#fff" stroke-width="5.2" paint-order="stroke"/>
<path d="M1852.2,1418.5L1862.5,1418.5L1865.7,1425.0L1873.4,1433.1L1882.4,1438.0L1890.5,1440.4L1896.2,1443.7L1896.7,1452.7L1901.6,1454.0L1902.7,1459.2L1909.2,1464.9L1910.9,1469.8L1917.9,1473.0L1917.9,1488.5L1911.7,1488.5L1908.4,1485.6L1899.5,1481.2L1891.3,1473.8L1887.2,1466.5L1882.7,1457.6L1874.5,1447.8L1873.4,1442.9L1865.2,1437.7L1864.8,1429.9L1859.2,1425.0L1852.2,1419.3Z" fill="#f5a0a3"/>
<path d="M1919.0,1496.6L1921.4,1491.8L1928.0,1492.1L1931.2,1495.8L1935.3,1496.3L1935.8,1500.2L1950.8,1501.2L1952.4,1498.0L1961.4,1500.7L1966.2,1504.8L1980.1,1507.2L1975.2,1510.0L1964.6,1506.4L1956.5,1506.4L1947.5,1502.3L1936.1,1501.2L1924.7,1501.2Z" fill="#f5a0a3"/>
<path d="M1993.9,1508.9L2004.5,1508.9L2004.5,1511.0L1993.9,1511.0Z" fill="#f5a0a3"/>
<path d="M2012.7,1508.9L2028.1,1508.9L2028.1,1511.0L2012.7,1511.0Z" fill="#f5a0a3"/>
<path d="M2038.4,1518.6L2044.4,1514.6L2045.2,1515.4L2040.0,1519.5Z" fill="#f5a0a3"/>
<path d="M2015.9,1449.4L2019.2,1445.3L2023.3,1448.6L2040.4,1448.6L2040.4,1450.2L2016.7,1450.2Z" fill="#f5a0a3"/>
<path d="M2010.2,1457.6L2020.5,1465.7L2029.8,1460.0L2030.6,1459.2L2025.7,1462.4L2021.6,1464.9L2026.5,1477.1L2027.3,1481.2L2021.6,1475.5L2020.5,1467.3L2017.6,1469.0L2014.0,1476.3L2014.0,1488.5L2009.4,1488.5L2013.0,1480.4L2011.0,1476.3L2005.3,1473.0L2008.6,1467.3Z" fill="#f5a0a3"/>
<path d="M2064.5,1444.5L2068.9,1447.0L2064.8,1451.0Z" fill="#f5a0a3"/>
<path d="M2054.7,1474.7L2080.3,1474.7L2080.3,1475.5L2054.7,1475.5Z" fill="#f5a0a3"/>
<path d="M2083.5,1460.5L2089.2,1457.6L2094.9,1457.2L2104.7,1460.8L2104.7,1467.3L2099.0,1467.3L2099.0,1470.6L2100.3,1479.5L2100.6,1475.5L2113.7,1479.5L2116.9,1478.7L2121.0,1469.8L2129.9,1465.7L2138.1,1469.8L2147.9,1470.3L2147.9,1507.2L2138.9,1507.2L2138.1,1504.8L2134.0,1490.9L2126.7,1485.2L2116.9,1480.4L2108.8,1478.7L2101.4,1473.8L2097.4,1467.3L2090.9,1462.4L2083.5,1461.1Z" fill="#f5a0a3"/>
<path d="M2017.2,1332.1L2026.5,1332.1L2026.5,1341.9L2021.6,1346.8L2021.6,1355.7L2029.0,1357.9L2034.7,1361.4L2034.7,1363.4L2024.9,1358.2L2017.6,1358.2L2016.7,1354.1L2012.3,1350.0L2012.7,1347.6L2017.2,1346.8Z" fill="#f59fa2"/>
<path d="M2025.4,1377.7L2028.1,1379.0L2025.7,1380.2Z" fill="#f59fa2"/>
<path d="M2042.8,1377.7L2044.4,1376.1L2043.6,1380.2Z" fill="#f59fa2"/>
<path d="M2046.9,1373.7L2048.2,1372.8L2047.7,1376.1Z" fill="#f59fa2"/>
<path d="M2030.6,1387.5L2033.0,1387.8L2030.9,1388.8Z" fill="#f59fa2"/>
<path d="M2039.5,1398.9L2044.4,1398.1L2050.9,1396.5L2051.8,1390.8L2053.1,1390.8L2053.1,1403.8L2048.5,1404.6L2044.4,1409.5L2048.2,1412.8L2047.7,1413.9L2042.0,1410.3L2039.5,1406.2L2042.8,1403.0L2039.5,1400.5Z" fill="#f59fa2"/>
<path d="M2025.4,1404.6L2031.4,1400.9L2033.0,1401.4L2026.5,1405.4Z" fill="#f59fa2"/>
<path d="M1865.2,1326.4L1868.7,1322.8L1872.8,1322.8L1876.9,1318.7L1883.2,1318.7L1883.4,1322.2L1886.9,1322.8L1883.2,1330.5L1883.4,1335.2L1884.8,1336.1L1891.6,1332.8L1892.2,1335.2L1898.7,1335.8L1902.8,1331.6L1906.9,1331.9L1909.3,1334.6L1909.5,1342.8L1914.0,1347.5L1913.7,1354.0L1897.5,1354.2L1892.8,1363.4L1894.0,1368.7L1890.5,1367.5L1886.7,1366.9L1886.4,1363.4L1879.9,1363.1L1878.7,1372.8L1875.8,1383.4L1874.6,1388.1L1875.2,1392.8L1879.3,1392.8L1879.4,1401.4L1883.2,1406.2L1882.7,1409.5L1879.1,1406.2L1874.5,1399.7L1869.6,1397.0L1872.6,1388.3L1874.6,1378.7L1877.5,1369.3L1877.5,1364.0L1869.9,1356.3L1869.5,1353.4L1873.8,1352.8L1873.8,1338.7L1865.2,1329.9Z" fill="#f59ea1" stroke="#fff" stroke-width="5.2" paint-order="stroke"/>
<path d="M1896.9,1301.7L1912.2,1301.3L1916.9,1297.0L1919.8,1297.0L1922.8,1299.9L1922.8,1304.6L1926.9,1305.8L1929.8,1307.2L1922.8,1311.4L1918.7,1319.3L1916.3,1323.4L1919.8,1329.9L1922.8,1331.1L1926.9,1342.8L1930.4,1347.5L1935.7,1352.8L1939.8,1365.1L1939.8,1372.8L1936.1,1376.3L1927.5,1380.8L1922.8,1389.2L1916.3,1392.8L1914.0,1391.0L1916.9,1388.1L1916.9,1385.1L1914.0,1384.5L1914.2,1383.4L1921.0,1383.6L1921.6,1378.7L1929.8,1370.4L1930.2,1348.1L1925.7,1342.2L1922.8,1335.2L1918.1,1327.5L1915.1,1323.2L1910.4,1320.8L1913.0,1317.5L1912.8,1311.7L1902.8,1311.4L1899.3,1307.5Z" fill="#f3888c" stroke="#fff" stroke-width="5.2" paint-order="stroke"/>
<path d="M1938.9,1323.4L1948.1,1318.7L1950.2,1319.3L1948.6,1321.1L1948.6,1324.6L1938.9,1328.7Z" fill="#f2767b"/>
<path d="M608.9,1100.4L608.9,1105.6L617.0,1102.8L621.1,1105.2L625.2,1105.6L628.4,1102.0L634.1,1100.7L639.8,1102.0L643.9,1105.6L657.7,1106.1L659.4,1103.6L659.0,1089.8L651.2,1089.4L650.9,1081.1L631.7,1081.1L626.0,1087.3L621.1,1089.0L615.4,1093.8Z" fill="#ffffff"/>
<path d="M639.0,1118.3L635.3,1123.2L639.0,1123.5L639.3,1132.1L635.3,1134.6L636.6,1138.6L639.3,1141.1L639.3,1148.9L644.7,1149.2L650.4,1142.7L650.4,1137.8L647.1,1131.3L651.2,1124.8L651.2,1121.5L655.3,1119.1L655.3,1116.6L659.7,1114.7L657.7,1110.1L648.0,1110.9L643.1,1115.0Z" fill="#ffffff"/>
<path d="M659.7,1114.7L664.3,1118.3L665.1,1126.4L661.0,1130.5L667.5,1131.3L673.2,1136.2L673.2,1139.5L681.4,1137.0L681.4,1123.2L693.6,1122.3L693.6,1120.7L690.3,1112.6L685.4,1107.7L674.0,1107.7L664.3,1104.4L659.4,1103.6L657.7,1106.1L657.7,1110.1Z" fill="#ffffff"/>
<path d="M665.1,1147.6L669.1,1153.3L680.5,1153.3L684.6,1149.2L689.5,1148.4L697.6,1139.5L698.1,1136.2L690.3,1137.0L678.1,1140.3L674.0,1146.0L672.4,1144.3L669.1,1145.2Z" fill="#ffffff"/>
<path d="M691.1,1129.7L703.3,1128.1L707.4,1125.6L713.1,1124.8L715.6,1125.6L715.6,1129.7L710.7,1134.6L698.1,1136.2L691.1,1134.6Z" fill="#ffffff"/>
</g>
<text x="31.4" y="167.5" font-size="96.0" class="b" textLength="2901.8" lengthAdjust="spacingAndGlyphs">Cross-Border Retail Ecommerce Buyer Penetration, by Country, 2023</text>
<text x="2175.8" y="293.5" font-size="65.0" class="i" textLength="537.0" lengthAdjust="spacingAndGlyphs">% of digital buyers</text>
<rect x="2179.5" y="329" width="731" height="47" fill="url(#lg)"/>
<text x="2163.7" y="431.0" font-size="45.0" class="b" textLength="66.5" lengthAdjust="spacingAndGlyphs">0%</text>
<text x="2853.8" y="431.0" font-size="45.0" class="b" textLength="94.0" lengthAdjust="spacingAndGlyphs">60%</text>
<rect x="89.9" y="339.0" width="477.7" height="369.7" rx="24" fill="#000" fill-opacity="0.09"/>
<rect x="82.3" y="332.3" width="477.7" height="369.7" rx="24" fill="#fff" stroke="#1a1a1a" stroke-width="1.7"/>
<text x="147.3" y="405.7" font-size="51.5" class="b" textLength="337.4" lengthAdjust="spacingAndGlyphs">North America</text>
<rect x="339.7" y="442.7" width="204.3" height="73.6" fill="#e8101b"/>
<rect x="339.7" y="516.3" width="204.3" height="75.7" fill="#ea3a42"/>
<rect x="339.7" y="592.0" width="204.3" height="75.5" fill="#f2797e"/>
<rect x="99.7" y="441.7" width="240.0" height="2" fill="#8c8c8c"/>
<rect x="99.7" y="515.3" width="240.0" height="2" fill="#8c8c8c"/>
<rect x="339.7" y="515.1" width="204.3" height="2.4" fill="#fff" fill-opacity="0.85"/>
<rect x="99.7" y="591.0" width="240.0" height="2" fill="#8c8c8c"/>
<rect x="339.7" y="590.8" width="204.3" height="2.4" fill="#fff" fill-opacity="0.85"/>
<rect x="99.7" y="666.5" width="240.0" height="2" fill="#8c8c8c"/>
<text x="99.2" y="489.7" font-size="37.5" class="b" textLength="131.7" lengthAdjust="spacingAndGlyphs">Canada</text>
<text x="370.7" y="498.6" font-size="48.5" class="b" textLength="142.1" lengthAdjust="spacingAndGlyphs" fill="#fff">55.5%</text>
<text x="98.2" y="568.7" font-size="37.5" class="b" textLength="126.8" lengthAdjust="spacingAndGlyphs">Mexico</text>
<text x="377.9" y="573.3" font-size="48.5" class="b" textLength="128.5" lengthAdjust="spacingAndGlyphs" fill="#fff">47.7%</text>
<text x="98.4" y="641.1" font-size="37.5" class="b" textLength="52.3" lengthAdjust="spacingAndGlyphs">US</text>
<text x="375.6" y="649.2" font-size="48.5" class="b" textLength="132.7" lengthAdjust="spacingAndGlyphs" fill="#fff">31.9%</text>
<rect x="882.7" y="367.4" width="477.8" height="514.6" rx="24" fill="#000" fill-opacity="0.09"/>
<rect x="874.0" y="358.4" width="477.8" height="514.6" rx="24" fill="#fff" stroke="#1a1a1a" stroke-width="1.7"/>
<text x="1056.5" y="419.0" font-size="51.5" class="b" textLength="113.9" lengthAdjust="spacingAndGlyphs">EU-5</text>
<rect x="1131.7" y="468.3" width="204.1" height="73.5" fill="#e9202a"/>
<rect x="1131.7" y="541.8" width="204.1" height="75.8" fill="#eb3a43"/>
<rect x="1131.7" y="617.6" width="204.1" height="75.2" fill="#eb3b44"/>
<rect x="1131.7" y="692.8" width="204.1" height="73.2" fill="#ec4c54"/>
<rect x="1131.7" y="766.0" width="204.1" height="73.8" fill="#f2757b"/>
<rect x="891.8" y="467.3" width="239.9" height="2" fill="#8c8c8c"/>
<rect x="891.8" y="540.8" width="239.9" height="2" fill="#8c8c8c"/>
<rect x="1131.7" y="540.6" width="204.1" height="2.4" fill="#fff" fill-opacity="0.85"/>
<rect x="891.8" y="616.6" width="239.9" height="2" fill="#8c8c8c"/>
<rect x="1131.7" y="616.4" width="204.1" height="2.4" fill="#fff" fill-opacity="0.85"/>
<rect x="891.8" y="691.8" width="239.9" height="2" fill="#8c8c8c"/>
<rect x="1131.7" y="691.6" width="204.1" height="2.4" fill="#fff" fill-opacity="0.85"/>
<rect x="891.8" y="765.0" width="239.9" height="2" fill="#8c8c8c"/>
<rect x="1131.7" y="764.8" width="204.1" height="2.4" fill="#fff" fill-opacity="0.85"/>
<rect x="891.8" y="838.8" width="239.9" height="2" fill="#8c8c8c"/>
<text x="891.8" y="515.4" font-size="37.5" class="b" textLength="99.2" lengthAdjust="spacingAndGlyphs">Spain</text>
<text x="1166.0" y="523.1" font-size="48.5" class="b" textLength="135.3" lengthAdjust="spacingAndGlyphs" fill="#fff">51.6%</text>
<text x="890.3" y="594.6" font-size="37.5" class="b" textLength="75.2" lengthAdjust="spacingAndGlyphs">Italy</text>
<text x="1161.8" y="597.9" font-size="48.5" class="b" textLength="144.4" lengthAdjust="spacingAndGlyphs" fill="#fff">46.8%</text>
<text x="890.3" y="667.4" font-size="37.5" class="b" textLength="121.3" lengthAdjust="spacingAndGlyphs">France</text>
<text x="1164.2" y="674.1" font-size="48.5" class="b" textLength="139.7" lengthAdjust="spacingAndGlyphs" fill="#fff">45.9%</text>
<text x="890.6" y="738.6" font-size="37.5" class="b" textLength="53.4" lengthAdjust="spacingAndGlyphs">UK</text>
<text x="1162.8" y="747.6" font-size="48.5" class="b" textLength="142.4" lengthAdjust="spacingAndGlyphs" fill="#fff">43.4%</text>
<text x="891.3" y="816.1" font-size="37.5" class="b" textLength="156.1" lengthAdjust="spacingAndGlyphs">Germany</text>
<text x="1163.0" y="821.8" font-size="48.5" class="b" textLength="141.8" lengthAdjust="spacingAndGlyphs" fill="#fff">33.3%</text>
<rect x="2451.9" y="591.0" width="477.1" height="134.4" rx="24" fill="#000" fill-opacity="0.09"/>
<rect x="2443.4" y="582.0" width="477.1" height="134.4" rx="24" fill="#fff" stroke="#1a1a1a" stroke-width="1.7"/>
<rect x="2700.4" y="612.8" width="204.1" height="73.8" fill="#eb3941"/>
<rect x="2460.8" y="611.8" width="239.6" height="2" fill="#8c8c8c"/>
<rect x="2460.8" y="685.6" width="239.6" height="2" fill="#8c8c8c"/>
<text x="2459.5" y="661.9" font-size="37.5" class="b" textLength="115.0" lengthAdjust="spacingAndGlyphs">Russia</text>
<text x="2740.5" y="667.9" font-size="48.5" class="b" textLength="124.4" lengthAdjust="spacingAndGlyphs" fill="#fff">47.1%</text>
<rect x="2452.4" y="927.5" width="477.1" height="897.1" rx="24" fill="#000" fill-opacity="0.09"/>
<rect x="2443.4" y="911.5" width="477.1" height="897.1" rx="24" fill="#fff" stroke="#1a1a1a" stroke-width="1.7"/>
<text x="2543.5" y="976.6" font-size="51.5" class="b" textLength="279.6" lengthAdjust="spacingAndGlyphs">Asia-Pacific</text>
<rect x="2700.4" y="1021.7" width="204.1" height="73.2" fill="#e80f1a"/>
<rect x="2700.4" y="1094.9" width="204.1" height="76.5" fill="#e9252e"/>
<rect x="2700.4" y="1171.4" width="204.1" height="74.8" fill="#f2787d"/>
<rect x="2700.4" y="1246.2" width="204.1" height="72.8" fill="#f3878b"/>
<rect x="2700.4" y="1319.0" width="204.1" height="76.3" fill="#f3878b"/>
<rect x="2700.4" y="1395.3" width="204.1" height="75.3" fill="#f3888c"/>
<rect x="2700.4" y="1470.6" width="204.1" height="74.4" fill="#f59ea1"/>
<rect x="2700.4" y="1545.0" width="204.1" height="75.8" fill="#f59ea1"/>
<rect x="2700.4" y="1620.8" width="204.1" height="75.8" fill="#f59fa2"/>
<rect x="2700.4" y="1696.6" width="204.1" height="75.6" fill="#f5a0a3"/>
<rect x="2460.8" y="1020.7" width="239.6" height="2" fill="#8c8c8c"/>
<rect x="2460.8" y="1093.9" width="239.6" height="2" fill="#8c8c8c"/>
<rect x="2700.4" y="1093.7" width="204.1" height="2.4" fill="#fff" fill-opacity="0.85"/>
<rect x="2460.8" y="1170.4" width="239.6" height="2" fill="#8c8c8c"/>
<rect x="2700.4" y="1170.2" width="204.1" height="2.4" fill="#fff" fill-opacity="0.85"/>
<rect x="2460.8" y="1245.2" width="239.6" height="2" fill="#8c8c8c"/>
<rect x="2700.4" y="1245.0" width="204.1" height="2.4" fill="#fff" fill-opacity="0.85"/>
<rect x="2460.8" y="1318.0" width="239.6" height="2" fill="#8c8c8c"/>
<rect x="2700.4" y="1317.8" width="204.1" height="2.4" fill="#fff" fill-opacity="0.85"/>
<rect x="2460.8" y="1394.3" width="239.6" height="2" fill="#8c8c8c"/>
<rect x="2700.4" y="1394.1" width="204.1" height="2.4" fill="#fff" fill-opacity="0.85"/>
<rect x="2460.8" y="1469.6" width="239.6" height="2" fill="#8c8c8c"/>
<rect x="2700.4" y="1469.4" width="204.1" height="2.4" fill="#fff" fill-opacity="0.85"/>
<rect x="2460.8" y="1544.0" width="239.6" height="2" fill="#8c8c8c"/>
<rect x="2700.4" y="1543.8" width="204.1" height="2.4" fill="#fff" fill-opacity="0.85"/>
<rect x="2460.8" y="1619.8" width="239.6" height="2" fill="#8c8c8c"/>
<rect x="2700.4" y="1619.6" width="204.1" height="2.4" fill="#fff" fill-opacity="0.85"/>
<rect x="2460.8" y="1695.6" width="239.6" height="2" fill="#8c8c8c"/>
<rect x="2700.4" y="1695.4" width="204.1" height="2.4" fill="#fff" fill-opacity="0.85"/>
<rect x="2460.8" y="1771.2" width="239.6" height="2" fill="#8c8c8c"/>
<text x="2460.7" y="1068.5" font-size="37.5" class="b" textLength="179.0" lengthAdjust="spacingAndGlyphs">Singapore</text>
<text x="2732.8" y="1077.5" font-size="48.5" class="b" textLength="139.1" lengthAdjust="spacingAndGlyphs" fill="#fff">56.7%</text>
<text x="2460.9" y="1146.3" font-size="37.5" class="b" textLength="155.1" lengthAdjust="spacingAndGlyphs">Australia</text>
<text x="2731.9" y="1152.0" font-size="48.5" class="b" textLength="140.8" lengthAdjust="spacingAndGlyphs" fill="#fff">53.0%</text>
<text x="2460.4" y="1220.5" font-size="37.5" class="b" textLength="97.1" lengthAdjust="spacingAndGlyphs">China</text>
<text x="2735.1" y="1227.9" font-size="48.5" class="b" textLength="134.9" lengthAdjust="spacingAndGlyphs" fill="#fff">31.6%</text>
<text x="2459.3" y="1293.4" font-size="37.5" class="b" textLength="152.9" lengthAdjust="spacingAndGlyphs">Malaysia</text>
<text x="2730.9" y="1301.7" font-size="48.5" class="b" textLength="142.8" lengthAdjust="spacingAndGlyphs" fill="#fff">29.8%</text>
<text x="2460.8" y="1370.9" font-size="37.5" class="b" textLength="214.3" lengthAdjust="spacingAndGlyphs">South Korea</text>
<text x="2730.9" y="1376.9" font-size="48.5" class="b" textLength="142.8" lengthAdjust="spacingAndGlyphs" fill="#fff">29.6%</text>
<text x="2461.5" y="1445.0" font-size="37.5" class="b" textLength="143.2" lengthAdjust="spacingAndGlyphs">Vietnam</text>
<text x="2730.9" y="1451.7" font-size="48.5" class="b" textLength="142.8" lengthAdjust="spacingAndGlyphs" fill="#fff">25.2%</text>
<text x="2461.4" y="1518.8" font-size="37.5" class="b" textLength="148.1" lengthAdjust="spacingAndGlyphs">Thailand</text>
<text x="2730.9" y="1526.2" font-size="48.5" class="b" textLength="142.8" lengthAdjust="spacingAndGlyphs" fill="#fff">24.0%</text>
<text x="2461.3" y="1596.4" font-size="37.5" class="b" textLength="104.4" lengthAdjust="spacingAndGlyphs">Japan</text>
<text x="2730.9" y="1601.1" font-size="48.5" class="b" textLength="142.8" lengthAdjust="spacingAndGlyphs" fill="#fff">23.8%</text>
<text x="2459.4" y="1671.3" font-size="37.5" class="b" textLength="191.3" lengthAdjust="spacingAndGlyphs">Philippines</text>
<text x="2736.0" y="1677.9" font-size="48.5" class="b" textLength="132.5" lengthAdjust="spacingAndGlyphs" fill="#fff">23.1%</text>
<text x="2459.4" y="1746.8" font-size="37.5" class="b" textLength="168.6" lengthAdjust="spacingAndGlyphs">Indonesia</text>
<text x="2733.0" y="1753.4" font-size="48.5" class="b" textLength="138.6" lengthAdjust="spacingAndGlyphs" fill="#fff">21.5%</text>
<rect x="86.5" y="1532.3" width="477.2" height="290.7" rx="24" fill="#000" fill-opacity="0.09"/>
<rect x="78.5" y="1525.3" width="477.2" height="290.7" rx="24" fill="#fff" stroke="#1a1a1a" stroke-width="1.7"/>
<text x="146.6" y="1594.2" font-size="51.5" class="b" textLength="340.9" lengthAdjust="spacingAndGlyphs">South America</text>
<rect x="336.0" y="1635.7" width="204.3" height="73.3" fill="#e80f1a"/>
<rect x="336.0" y="1709.0" width="204.3" height="76.3" fill="#fadcdd"/>
<rect x="95.7" y="1634.7" width="240.3" height="2" fill="#8c8c8c"/>
<rect x="95.7" y="1708.0" width="240.3" height="2" fill="#8c8c8c"/>
<rect x="336.0" y="1707.8" width="204.3" height="2.4" fill="#fff" fill-opacity="0.85"/>
<rect x="95.7" y="1784.3" width="240.3" height="2" fill="#8c8c8c"/>
<text x="94.2" y="1685.3" font-size="37.5" class="b" textLength="101.3" lengthAdjust="spacingAndGlyphs">Brazil</text>
<text x="375.5" y="1692.4" font-size="48.5" class="b" textLength="125.0" lengthAdjust="spacingAndGlyphs" fill="#fff">51.1%</text>
<text x="95.8" y="1758.7" font-size="37.5" class="b" textLength="169.6" lengthAdjust="spacingAndGlyphs">Argentina</text>
<text x="381.0" y="1765.3" font-size="48.5" class="b" textLength="114.8" lengthAdjust="spacingAndGlyphs" fill="#000">4.4%</text>
<text x="78.6" y="1970.7" font-size="47.0" class="i" textLength="2786.1" lengthAdjust="spacingAndGlyphs">Note: ages 14+; internet users who have purchased goods online from a seller in a foreign country, either directly or through an intermediary</text>
<text x="77.9" y="2025.9" font-size="47.0" class="i" textLength="2726.9" lengthAdjust="spacingAndGlyphs">(i.e., marketplace), at least once during the calendar year via any digital channel and device; excludes travel and event ticket sales, digital</text>
<text x="78.5" y="2081.0" font-size="47.0" class="i" textLength="894.0" lengthAdjust="spacingAndGlyphs">downloads, subscriptions, and other services</text>
<text x="78.7" y="2135.4" font-size="47.0" class="i" textLength="670.1" lengthAdjust="spacingAndGlyphs">Source: eMarketer, January 2023</text>
<text x="76.7" y="2219.7" font-size="46.0" class="b" textLength="168.7" lengthAdjust="spacingAndGlyphs">i350162</text>
<text x="2170.5" y="2154.4" font-size="62.5" textLength="307" lengthAdjust="spacing" fill="#111" stroke="#111" stroke-width="1.7">INSIDER</text>
<text x="2138.5" y="2202.3" font-size="35.5" class="b" textLength="370.5" lengthAdjust="spacing" fill="#111">INTELLIGENCE</text>
<rect x="2570.7" y="2110.4" width="2.6" height="93" fill="#111"/>
<circle cx="2655.7" cy="2162.6" r="18" fill="#e8222b"/>
<text x="2641.5" y="2179" font-size="50" class="b i w">e</text>
<text x="2674" y="2178" font-size="63.5" textLength="235" lengthAdjust="spacing" fill="#231f20" stroke="#231f20" stroke-width="0.9">Marketer</text>
<text x="2905.5" y="2180" font-size="9" fill="#444">®</text>
</svg></body></html>
